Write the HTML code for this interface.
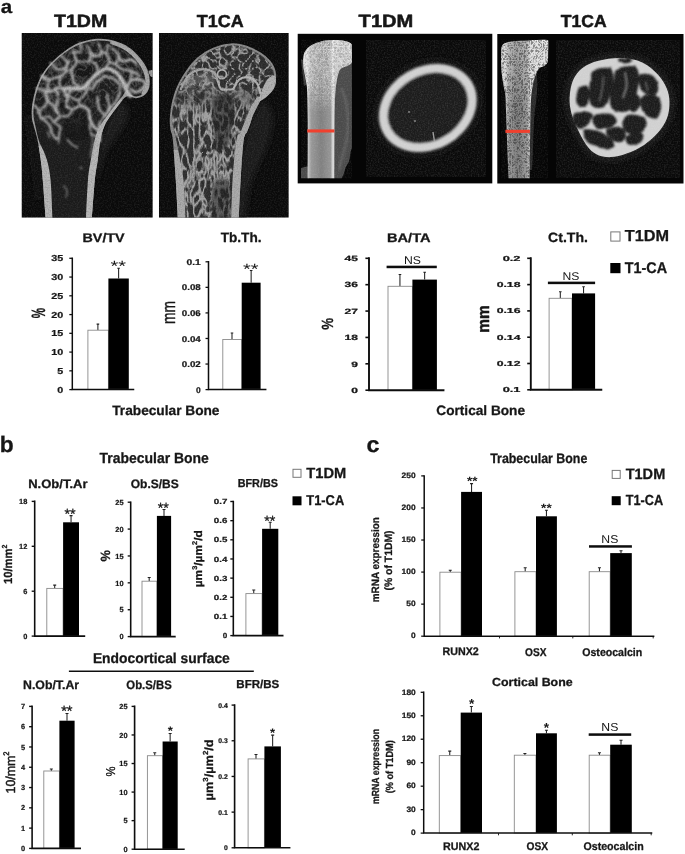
<!DOCTYPE html>
<html lang="en"><head><meta charset="utf-8"><title>Figure</title>
<style>html,body{margin:0;padding:0;background:#fff}svg{display:block}text{font-family:'Liberation Sans', sans-serif}</style>
</head><body>
<svg width="685" height="854" viewBox="0 0 685 854" text-rendering="geometricPrecision">
<rect width="685" height="854" fill="#fff"/>
<defs>
<filter id="soft" x="-2%" y="-2%" width="104%" height="104%"><feGaussianBlur stdDeviation="0.32"/></filter>
<filter id="b1" x="-5%" y="-5%" width="110%" height="110%"><feGaussianBlur stdDeviation="0.75"/></filter>
<filter id="b2" x="-5%" y="-5%" width="110%" height="110%"><feGaussianBlur stdDeviation="1.1"/></filter>
<filter id="b3" x="-10%" y="-10%" width="120%" height="120%"><feGaussianBlur stdDeviation="3"/></filter>
<filter id="wob" x="-5%" y="-5%" width="110%" height="110%" color-interpolation-filters="sRGB"><feTurbulence type="fractalNoise" baseFrequency="0.06" numOctaves="2" seed="21"/><feColorMatrix type="matrix" values="1 0 0 0 0  0 1 0 0 0  0 0 1 0 0  0 0 0 0 1" result="t"/><feDisplacementMap in="SourceGraphic" in2="t" scale="5" xChannelSelector="R" yChannelSelector="G"/><feGaussianBlur stdDeviation="0.85"/></filter>
<filter id="wob2" x="-5%" y="-5%" width="110%" height="110%" color-interpolation-filters="sRGB"><feTurbulence type="fractalNoise" baseFrequency="0.09" numOctaves="2" seed="33"/><feColorMatrix type="matrix" values="1 0 0 0 0  0 1 0 0 0  0 0 1 0 0  0 0 0 0 1" result="t"/><feDisplacementMap in="SourceGraphic" in2="t" scale="6" xChannelSelector="R" yChannelSelector="G"/><feGaussianBlur stdDeviation="0.9"/></filter>
<filter id="wob3" x="-5%" y="-5%" width="110%" height="110%" color-interpolation-filters="sRGB"><feTurbulence type="fractalNoise" baseFrequency="0.13" numOctaves="2" seed="5"/><feColorMatrix type="matrix" values="1 0 0 0 0  0 1 0 0 0  0 0 1 0 0  0 0 0 0 1" result="t"/><feDisplacementMap in="SourceGraphic" in2="t" scale="3" xChannelSelector="R" yChannelSelector="G"/><feGaussianBlur stdDeviation="1.0"/></filter>
<filter id="xtexW" x="0" y="0" width="100%" height="100%" color-interpolation-filters="sRGB"><feTurbulence type="turbulence" baseFrequency="0.38 0.34" numOctaves="2" seed="12"/><feColorMatrix type="matrix" values="0 0 0 0 1  0 0 0 0 1  0 0 0 0 1  -3.2 0 0 0 0.95"/><feComposite in2="SourceGraphic" operator="in"/><feGaussianBlur stdDeviation="0.4"/></filter>
<filter id="b08" x="-5%" y="-5%" width="110%" height="110%"><feGaussianBlur stdDeviation="0.85"/></filter>
<filter id="b05" x="-5%" y="-5%" width="110%" height="110%"><feGaussianBlur stdDeviation="0.5"/></filter>
<filter id="grainW" x="0" y="0" width="100%" height="100%" color-interpolation-filters="sRGB"><feTurbulence type="fractalNoise" baseFrequency="0.7" numOctaves="2" seed="3" result="n"/><feColorMatrix in="n" type="matrix" values="0 0 0 0 1  0 0 0 0 1  0 0 0 0 1  2.0 0 0 0 -0.8"/><feGaussianBlur stdDeviation="0.45"/></filter>
<filter id="meshA" x="0" y="0" width="100%" height="100%" color-interpolation-filters="sRGB"><feTurbulence type="turbulence" baseFrequency="0.17 0.075" numOctaves="2" seed="4"/><feColorMatrix type="matrix" values="0 0 0 0 0.64  0 0 0 0 0.64  0 0 0 0 0.64  -4.0 0 0 0 1.38"/><feComposite in2="SourceGraphic" operator="in"/><feGaussianBlur stdDeviation="0.65"/></filter>
<filter id="meshB" x="0" y="0" width="100%" height="100%" color-interpolation-filters="sRGB"><feTurbulence type="turbulence" baseFrequency="0.15 0.13" numOctaves="2" seed="7"/><feColorMatrix type="matrix" values="0 0 0 0 0.64  0 0 0 0 0.64  0 0 0 0 0.64  -4.0 0 0 0 1.22"/><feComposite in2="SourceGraphic" operator="in"/><feGaussianBlur stdDeviation="0.65"/></filter>
<filter id="xtex" x="0" y="0" width="100%" height="100%" color-interpolation-filters="sRGB"><feTurbulence type="turbulence" baseFrequency="0.42 0.36" numOctaves="2" seed="12"/><feColorMatrix type="matrix" values="0 0 0 0 0.12  0 0 0 0 0.12  0 0 0 0 0.12  3.0 0 0 0 -0.45"/><feComposite in2="SourceGraphic" operator="in"/><feGaussianBlur stdDeviation="0.35"/></filter>
<filter id="grainK" x="0" y="0" width="100%" height="100%" color-interpolation-filters="sRGB"><feTurbulence type="fractalNoise" baseFrequency="0.7" numOctaves="2" seed="9" result="n"/><feColorMatrix in="n" type="matrix" values="0 0 0 0 0  0 0 0 0 0  0 0 0 0 0  0 2.0 0 0 -0.8"/><feGaussianBlur stdDeviation="0.45"/></filter>
<filter id="speck" x="0" y="0" width="100%" height="100%"><feTurbulence type="fractalNoise" baseFrequency="0.55" numOctaves="2" seed="5" result="n"/><feColorMatrix in="n" type="matrix" values="0 0 0 0 0  0 0 0 0 0  0 0 0 0 0  5 0 0 0 -2.3"/></filter>
<filter id="speckW" x="0" y="0" width="100%" height="100%"><feTurbulence type="fractalNoise" baseFrequency="0.6" numOctaves="2" seed="8" result="n"/><feColorMatrix in="n" type="matrix" values="0 0 0 0 1  0 0 0 0 1  0 0 0 0 1  0 5 0 0 -2.4"/></filter>
<linearGradient id="shaft1" gradientUnits="userSpaceOnUse" x1="307.4" x2="335" y1="0" y2="0"><stop offset="0" stop-color="#cfcfcf"/><stop offset="0.14" stop-color="#989898"/><stop offset="0.5" stop-color="#808080"/><stop offset="0.84" stop-color="#969696"/><stop offset="0.93" stop-color="#e2e2e2"/><stop offset="1" stop-color="#b4b4b4"/></linearGradient>
<linearGradient id="shaft2" gradientUnits="userSpaceOnUse" x1="505" x2="530.6" y1="0" y2="0"><stop offset="0" stop-color="#d0d0d0"/><stop offset="0.16" stop-color="#989898"/><stop offset="0.5" stop-color="#7e7e7e"/><stop offset="0.84" stop-color="#989898"/><stop offset="1" stop-color="#d8d8d8"/></linearGradient>
<clipPath id="cp1"><rect x="21.5" y="32.9" width="131.3" height="184.8"/></clipPath>
<clipPath id="cp2"><rect x="158.9" y="32.9" width="129.9" height="184.8"/></clipPath>
<clipPath id="cx1"><rect x="301" y="39.6" width="50.9" height="138.8"/></clipPath>
<clipPath id="cx2"><rect x="501" y="39.6" width="47.3" height="138.8"/></clipPath>
</defs>
<g filter="url(#soft)">
<text stroke="#161616" stroke-width="0.28" stroke-linejoin="round" x="0.88" y="13.11" font-size="18.73" font-weight="bold" textLength="11.44" lengthAdjust="spacingAndGlyphs" fill="#161616">a</text>
<text stroke="#161616" stroke-width="0.28" stroke-linejoin="round" x="-0.18" y="452.48" font-size="22.31" font-weight="bold" textLength="13.91" lengthAdjust="spacingAndGlyphs" fill="#161616">b</text>
<text stroke="#161616" stroke-width="0.28" stroke-linejoin="round" x="366.57" y="451.98" font-size="22.18" font-weight="bold" textLength="12.96" lengthAdjust="spacingAndGlyphs" fill="#161616">c</text>
<text stroke="#161616" stroke-width="0.5" stroke-linejoin="round" x="54.00" y="26.80" font-size="17.83" font-weight="bold" textLength="53.31" lengthAdjust="spacingAndGlyphs" fill="#161616">T1DM</text>
<text stroke="#161616" stroke-width="0.5" stroke-linejoin="round" x="196.82" y="26.63" font-size="17.32" font-weight="bold" textLength="46.85" lengthAdjust="spacingAndGlyphs" fill="#161616">T1CA</text>
<text stroke="#161616" stroke-width="0.5" stroke-linejoin="round" x="358.60" y="26.90" font-size="17.83" font-weight="bold" textLength="54.75" lengthAdjust="spacingAndGlyphs" fill="#161616">T1DM</text>
<text stroke="#161616" stroke-width="0.5" stroke-linejoin="round" x="560.82" y="26.73" font-size="17.32" font-weight="bold" textLength="45.84" lengthAdjust="spacingAndGlyphs" fill="#161616">T1CA</text>
</g>
<g clip-path="url(#cp1)">
<rect x="21.5" y="32.9" width="131.3" height="184.8" fill="#0b0b0b"/>
<path d="M120 100 C128 102 130 112 126 122 C121 134 111 142 105 154 C102 162 100 170 98 178 L95 178 L98 150 L106 124 Z" fill="#1d1d1d" filter="url(#b3)"/>
<path d="M42 200 L39 160 L33 128 L30 112 L26 120 L31 150 L37 200Z" fill="#181818" filter="url(#b3)"/>
<g filter="url(#b1)">
<path d="M45.6 217.7C45.1 211.2 43.5 188.7 42.7 179.0C41.9 169.3 41.6 165.9 40.7 159.4C39.8 152.9 38.7 145.7 37.5 140.0C36.3 134.3 34.5 128.9 33.5 125.0C32.5 121.1 32.0 120.0 31.8 116.7C31.6 113.4 31.5 109.5 32.2 104.9C32.9 100.3 34.2 94.0 35.8 89.1C37.4 84.2 39.1 79.7 41.7 75.3C44.3 70.9 47.6 66.6 51.5 62.5C55.4 58.4 60.7 54.0 65.3 50.7C69.9 47.4 74.2 44.8 79.1 42.8C84.0 40.8 90.0 39.4 94.9 38.9C99.8 38.4 104.1 38.7 108.7 39.5C113.3 40.3 118.2 41.8 122.5 43.8C126.8 45.8 130.7 48.4 134.3 51.7C137.9 55.0 141.7 59.6 144.2 63.5C146.7 67.4 148.2 71.3 149.1 75.3C149.9 79.2 150.1 83.9 149.3 87.2C148.6 90.5 146.8 93.2 144.6 95.0C142.4 96.8 138.8 98.0 136.3 98.2C133.8 98.4 131.4 96.4 129.4 96.3C127.5 96.2 126.4 96.4 124.6 97.8C122.8 99.2 121.1 101.8 118.6 104.9C116.1 108.1 112.2 113.2 109.8 116.7C107.4 120.2 106.0 122.1 104.4 125.9C102.8 129.7 101.5 134.1 100.4 139.7C99.3 145.3 98.7 152.8 97.8 159.4C96.9 166.0 95.9 169.4 94.9 179.1C93.9 188.8 92.4 211.3 91.9 217.7Z" fill="#9c9c9c"/>
<clipPath id="csh1"><path d="M20 146 L80 146 L80 100 L155 100 L155 220 L20 220Z"/></clipPath>
<g clip-path="url(#csh1)"><path d="M45.6 217.7C45.1 211.2 43.5 188.7 42.7 179.0C41.9 169.3 41.6 165.9 40.7 159.4C39.8 152.9 38.7 145.7 37.5 140.0C36.3 134.3 34.5 128.9 33.5 125.0C32.5 121.1 32.0 120.0 31.8 116.7C31.6 113.4 31.5 109.5 32.2 104.9C32.9 100.3 34.2 94.0 35.8 89.1C37.4 84.2 39.1 79.7 41.7 75.3C44.3 70.9 47.6 66.6 51.5 62.5C55.4 58.4 60.7 54.0 65.3 50.7C69.9 47.4 74.2 44.8 79.1 42.8C84.0 40.8 90.0 39.4 94.9 38.9C99.8 38.4 104.1 38.7 108.7 39.5C113.3 40.3 118.2 41.8 122.5 43.8C126.8 45.8 130.7 48.4 134.3 51.7C137.9 55.0 141.7 59.6 144.2 63.5C146.7 67.4 148.2 71.3 149.1 75.3C149.9 79.2 150.1 83.9 149.3 87.2C148.6 90.5 146.8 93.2 144.6 95.0C142.4 96.8 138.8 98.0 136.3 98.2C133.8 98.4 131.4 96.4 129.4 96.3C127.5 96.2 126.4 96.4 124.6 97.8C122.8 99.2 121.1 101.8 118.6 104.9C116.1 108.1 112.2 113.2 109.8 116.7C107.4 120.2 106.0 122.1 104.4 125.9C102.8 129.7 101.5 134.1 100.4 139.7C99.3 145.3 98.7 152.8 97.8 159.4C96.9 166.0 95.9 169.4 94.9 179.1C93.9 188.8 92.4 211.3 91.9 217.7Z" fill="#b6b6b6"/></g>
<path d="M52.5 217.7C52.2 211.2 51.5 188.7 50.5 179.0C49.5 169.3 48.3 164.9 46.8 159.4C45.2 153.9 42.6 149.3 41.2 146.0C39.8 142.7 39.6 143.0 38.6 139.7C37.6 136.4 36.2 129.9 35.4 126.0C34.6 122.0 33.8 119.5 33.6 116.0C33.4 112.5 33.4 109.4 34.0 105.0C34.6 100.6 36.0 94.4 37.5 89.6C39.0 84.8 40.8 80.3 43.3 76.0C45.8 71.7 49.0 67.6 52.8 63.6C56.6 59.6 61.7 55.2 66.2 52.0C70.7 48.8 75.0 46.3 79.8 44.4C84.6 42.5 90.2 41.2 95.0 40.7C99.8 40.2 104.0 40.5 108.5 41.3C113.0 42.1 117.7 43.5 121.8 45.5C125.9 47.5 129.7 49.9 133.2 53.1C136.7 56.3 140.2 60.7 142.6 64.5C144.9 68.3 146.5 72.1 147.3 75.8C148.1 79.5 148.1 83.8 147.4 86.8C146.8 89.8 145.2 92.0 143.4 93.6C141.6 95.2 138.6 96.2 136.5 96.4C134.4 96.6 132.2 95.7 130.6 94.6C129.0 93.5 128.3 89.8 127.0 90.0C125.7 90.2 124.4 93.7 122.6 96.0C120.8 98.3 118.6 100.7 116.0 104.0C113.4 107.3 109.7 112.3 107.0 116.0C104.3 119.7 101.9 122.5 99.8 126.4C97.7 130.3 96.1 134.2 94.6 139.7C93.1 145.2 92.0 152.8 90.9 159.4C89.8 166.0 88.8 169.4 88.0 179.1C87.2 188.8 86.3 211.3 86.0 217.7Z" fill="#1b1b1b"/>
<path d="M74.2 61.5C76.2 60.1 81.6 59.1 85.0 59.6C88.5 60.1 92.9 62.4 94.9 64.5C96.9 66.6 97.8 69.7 96.9 72.4C95.9 75.0 91.9 78.3 89.0 80.3C86.0 82.2 81.8 84.7 79.1 84.2C76.5 83.7 74.3 79.9 73.2 77.3C72.2 74.7 72.7 71.1 72.8 68.4C73.0 65.8 72.2 63.0 74.2 61.5Z" fill="#141414"/>
<path d="M109.7 53.6C111.3 52.8 116.4 55.0 118.5 56.6C120.7 58.2 120.5 61.5 122.5 63.5C124.5 65.5 129.1 66.1 130.4 68.4C131.7 70.7 131.4 75.0 130.4 77.3C129.4 79.6 126.3 82.7 124.5 82.2C122.6 81.7 121.5 76.5 119.5 74.3C117.6 72.2 114.4 71.6 112.6 69.4C110.8 67.3 109.2 64.2 108.7 61.5C108.2 58.9 108.0 54.5 109.7 53.6Z" fill="#141414"/>
<path d="M79.1 112.8C83.1 110.8 86.7 109.2 89.0 110.8C91.3 112.4 92.9 118.4 92.9 122.6C92.9 126.9 91.3 133.5 89.0 136.4C86.7 139.3 82.7 140.0 79.1 140.0C75.5 140.0 69.6 139.3 67.3 136.4C65.0 133.5 63.4 126.6 65.3 122.6C67.3 118.7 75.2 114.7 79.1 112.8Z" fill="#141414"/>
<path d="M54.5 95.0C56.1 93.1 60.7 91.8 62.4 93.1C64.0 94.4 65.2 99.6 64.3 102.9C63.5 106.2 59.4 112.4 57.4 112.8C55.5 113.1 53.0 107.8 52.5 104.9C52.0 101.9 52.8 97.0 54.5 95.0Z" fill="#141414"/>
</g>
<clipPath id="cin1"><path d="M52.5 217.7C52.2 211.2 51.5 188.7 50.5 179.0C49.5 169.3 48.3 164.9 46.8 159.4C45.2 153.9 42.6 149.3 41.2 146.0C39.8 142.7 39.6 143.0 38.6 139.7C37.6 136.4 36.2 129.9 35.4 126.0C34.6 122.0 33.8 119.5 33.6 116.0C33.4 112.5 33.4 109.4 34.0 105.0C34.6 100.6 36.0 94.4 37.5 89.6C39.0 84.8 40.8 80.3 43.3 76.0C45.8 71.7 49.0 67.6 52.8 63.6C56.6 59.6 61.7 55.2 66.2 52.0C70.7 48.8 75.0 46.3 79.8 44.4C84.6 42.5 90.2 41.2 95.0 40.7C99.8 40.2 104.0 40.5 108.5 41.3C113.0 42.1 117.7 43.5 121.8 45.5C125.9 47.5 129.7 49.9 133.2 53.1C136.7 56.3 140.2 60.7 142.6 64.5C144.9 68.3 146.5 72.1 147.3 75.8C148.1 79.5 148.1 83.8 147.4 86.8C146.8 89.8 145.2 92.0 143.4 93.6C141.6 95.2 138.6 96.2 136.5 96.4C134.4 96.6 132.2 95.7 130.6 94.6C129.0 93.5 128.3 89.8 127.0 90.0C125.7 90.2 124.4 93.7 122.6 96.0C120.8 98.3 118.6 100.7 116.0 104.0C113.4 107.3 109.7 112.3 107.0 116.0C104.3 119.7 101.9 122.5 99.8 126.4C97.7 130.3 96.1 134.2 94.6 139.7C93.1 145.2 92.0 152.8 90.9 159.4C89.8 166.0 88.8 169.4 88.0 179.1C87.2 188.8 86.3 211.3 86.0 217.7Z"/></clipPath>
<linearGradient id="mg1" x1="0" x2="0" y1="96" y2="136" gradientUnits="userSpaceOnUse"><stop offset="0" stop-color="#fff"/><stop offset="1" stop-color="#000"/></linearGradient>
<mask id="mk1" maskUnits="userSpaceOnUse" x="20" y="30" width="135" height="190"><rect x="20" y="30" width="135" height="190" fill="url(#mg1)"/></mask>
<g clip-path="url(#cin1)"><g mask="url(#mk1)"><rect x="28" y="36" width="124" height="104" fill="#fff" filter="url(#meshB)" opacity="0.3"/></g></g>
<g fill="none" stroke-linecap="round" stroke-linejoin="round" filter="url(#wob)">
<path d="M62.4 89.5C63.9 89.2 68.3 87.9 71.6 87.5C75.0 87.2 79.7 88.1 82.7 87.2C85.6 86.2 86.9 83.7 89.4 81.6C91.8 79.5 94.7 76.4 97.3 74.5C99.8 72.7 102.2 71.3 104.7 70.6C107.3 69.9 110.2 69.8 112.6 70.6C115.1 71.4 117.7 73.2 119.5 75.3C121.4 77.5 122.5 81.0 123.7 83.6C124.8 86.2 125.3 89.1 126.4 91.1C127.5 93.1 129.7 95.0 130.4 95.8" stroke="#c4c4c4" stroke-width="4.16"/>
<path d="M92.1 89.1C93.2 87.7 96.0 82.8 98.4 80.8C100.9 78.9 104.0 77.5 106.7 77.3C109.5 77.1 112.8 78.0 115.0 79.7C117.2 81.4 119.1 84.7 119.7 87.5C120.3 90.4 119.7 94.1 118.5 97.0C117.4 99.9 113.6 103.6 112.6 104.9" stroke="#a8a8a8" stroke-width="2.72"/>
<path d="M62.4 89.5C61.2 89.5 57.6 88.8 55.5 89.1C53.3 89.5 51.5 91.5 49.6 91.5C47.6 91.5 45.8 89.5 43.6 89.1C41.5 88.7 37.7 89.1 36.6 89.1" stroke="#b0b0b0" stroke-width="2.56"/>
<path d="M73.2 51.7C73.9 53.3 77.8 58.6 77.5 61.5C77.3 64.5 72.4 66.5 71.6 69.4C70.9 72.4 72.1 76.6 73.2 79.3C74.3 82.0 77.5 84.5 78.3 85.6" stroke="#b4b4b4" stroke-width="2.72"/>
<path d="M77.5 61.5C79.1 61.5 84.1 60.7 87.0 61.1C90.0 61.5 93.2 62.1 95.3 63.9C97.3 65.7 98.6 70.5 99.2 71.8" stroke="#b0b0b0" stroke-width="2.40"/>
<path d="M87.0 45.8C87.7 47.1 88.9 52.4 90.9 54.0C93.0 55.7 97.5 56.3 99.2 55.6C100.9 54.9 101.3 51.7 101.2 49.7C101.1 47.7 99.2 44.8 98.8 43.8" stroke="#b4b4b4" stroke-width="2.40"/>
<path d="M101.2 49.7C102.2 50.1 105.8 52.9 107.1 52.1C108.4 51.3 108.8 46.2 109.1 45.0" stroke="#b0b0b0" stroke-width="2.24"/>
<path d="M107.1 52.1C107.4 53.6 109.4 58.6 109.1 61.5C108.8 64.5 105.8 68.4 105.1 69.8" stroke="#b0b0b0" stroke-width="2.40"/>
<path d="M90.9 54.0 L89.0 59.6" stroke="#aaa" stroke-width="2.24"/>
<path d="M112.6 48.1C113.7 49.4 118.5 53.4 118.9 56.0C119.3 58.6 116.6 63.0 115.0 63.9C113.4 64.8 110.1 61.9 109.1 61.5" stroke="#b0b0b0" stroke-width="2.24"/>
<path d="M118.9 56.0C119.7 56.9 121.3 60.9 123.3 61.5C125.2 62.1 128.5 59.2 130.8 59.6C133.1 60.0 136.0 63.2 137.1 63.9" stroke="#b8b8b8" stroke-width="2.56"/>
<path d="M115.0 63.9C116.2 64.8 119.9 68.2 122.5 69.4C125.1 70.7 128.0 70.3 130.8 71.4C133.5 72.4 137.7 75.0 139.0 75.7" stroke="#b0b0b0" stroke-width="2.40"/>
<path d="M126.4 91.1C127.0 89.5 127.9 83.6 129.6 81.6C131.2 79.7 133.9 79.3 136.3 79.3C138.6 79.3 142.3 80.1 143.8 81.6C145.2 83.1 145.9 86.5 145.0 88.3C144.0 90.2 140.5 92.5 138.2 92.7C136.0 92.8 132.7 89.7 131.5 89.1" stroke="#bcbcbc" stroke-width="2.88"/>
<path d="M130.8 71.4 L129.6 81.6" stroke="#aaa" stroke-width="2.24"/>
<path d="M61.4 55.6C62.4 56.9 66.6 60.9 67.3 63.5C68.0 66.1 65.0 70.4 65.7 71.4C66.4 72.4 70.7 69.7 71.6 69.4" stroke="#aaa" stroke-width="2.24"/>
<path d="M79.1 43.8C79.5 45.1 82.1 50.4 81.1 51.7C80.1 53.0 74.5 51.7 73.2 51.7" stroke="#aaa" stroke-width="2.08"/>
<path d="M41.7 75.7C43.0 76.3 46.6 79.0 49.6 79.3C52.5 79.5 56.5 78.5 59.4 77.3C62.4 76.1 66.0 72.7 67.3 71.8" stroke="#b4b4b4" stroke-width="2.56"/>
<path d="M51.5 63.1C52.5 64.2 55.1 68.6 57.4 69.4C59.7 70.2 63.4 69.5 65.3 67.8C67.3 66.2 68.6 60.9 69.3 59.6" stroke="#b0b0b0" stroke-width="2.40"/>
<path d="M49.6 79.3C49.2 80.6 47.6 85.1 47.6 87.2C47.6 89.2 49.2 90.8 49.6 91.5" stroke="#aaa" stroke-width="2.24"/>
<path d="M59.4 77.3C59.3 78.6 58.1 83.1 58.6 85.2C59.1 87.2 61.7 88.8 62.4 89.5" stroke="#aaa" stroke-width="2.24"/>
<path d="M45.6 91.1C46.0 92.7 48.3 98.0 48.0 100.9C47.7 103.9 45.3 106.9 43.6 108.8C42.0 110.8 39.1 112.1 38.1 112.8" stroke="#b0b0b0" stroke-width="2.40"/>
<path d="M53.9 89.1C54.6 90.4 57.6 94.0 57.8 97.0C58.1 100.0 55.1 104.3 55.5 107.3C55.8 110.2 60.1 112.2 59.8 114.7C59.5 117.3 54.9 121.3 53.9 122.6" stroke="#b4b4b4" stroke-width="2.56"/>
<path d="M62.4 89.5C63.3 90.8 67.1 94.4 67.7 97.0C68.3 99.6 65.1 102.9 65.7 104.9C66.4 106.9 69.4 108.7 71.6 108.8C73.9 109.0 76.6 105.7 79.1 105.7C81.7 105.7 85.0 107.0 87.0 108.8C89.0 110.7 90.6 115.4 91.3 116.7" stroke="#b8b8b8" stroke-width="2.72"/>
<path d="M34.2 104.9C35.1 105.6 38.4 106.9 39.7 109.2C41.0 111.5 40.7 116.1 42.1 118.7C43.5 121.2 46.4 122.3 48.0 124.6C49.6 126.9 50.1 129.9 51.5 132.5C53.0 135.0 55.8 138.7 56.7 140.0" stroke="#b0b0b0" stroke-width="2.40"/>
<path d="M59.8 114.7C60.8 115.1 64.1 117.0 65.7 116.7C67.4 116.4 68.7 114.1 69.7 112.8C70.7 111.5 71.3 109.5 71.6 108.8" stroke="#aaa" stroke-width="2.24"/>
<path d="M48.0 100.9 L55.5 107.3" stroke="#a4a4a4" stroke-width="2.08"/>
<path d="M42.1 118.7C43.3 118.4 47.6 116.1 49.6 116.7C51.5 117.4 52.3 120.7 53.9 122.6C55.5 124.6 58.6 125.7 59.4 128.5C60.2 131.4 58.8 138.1 58.6 140.0" stroke="#a8a8a8" stroke-width="2.24"/>
<path d="M71.6 87.5C71.2 88.8 68.4 93.1 69.3 95.0C70.2 96.9 74.5 99.0 77.2 99.0C79.8 99.0 83.0 97.0 85.0 95.0C87.1 93.1 88.7 88.5 89.4 87.2" stroke="#b4b4b4" stroke-width="2.40"/>
<path d="M77.2 99.0 L79.1 105.7" stroke="#aaa" stroke-width="2.08"/>
<path d="M97.3 97.0C97.6 99.0 97.9 105.5 99.2 108.8C100.5 112.1 104.2 115.4 105.1 116.7" stroke="#b0b0b0" stroke-width="2.40"/>
<path d="M106.7 95.0C107.1 96.7 109.1 101.6 109.1 104.9C109.1 108.2 107.1 113.1 106.7 114.7" stroke="#aaa" stroke-width="2.24"/>
<path d="M89.4 114.7C90.0 116.4 91.7 121.6 93.3 124.6C95.0 127.6 98.2 129.9 99.2 132.5C100.3 135.0 99.6 138.7 99.6 140.0" stroke="#bcbcbc" stroke-width="3.04"/>
<path d="M112.6 104.9C111.6 106.5 108.7 111.8 106.7 114.7C104.7 117.7 102.1 119.7 100.8 122.6C99.6 125.6 99.5 130.8 99.2 132.5" stroke="#b0b0b0" stroke-width="2.40"/>
<path d="M87.0 108.8 L89.4 114.7" stroke="#b0b0b0" stroke-width="2.40"/>
<path d="M57.4 123.9C57.8 125.6 59.2 130.5 59.4 133.8C59.6 137.1 58.8 142.0 58.6 143.6" stroke="#a0a0a0" stroke-width="1.4"/>
<path d="M67.3 139.7C68.3 140.7 71.6 144.3 73.2 145.6C74.9 146.9 76.5 147.3 77.2 147.6" stroke="#b0b0b0" stroke-width="1.5"/>
<path d="M89.4 123.9C89.7 125.6 90.0 131.8 91.3 133.8C92.7 135.8 96.3 135.4 97.3 135.8" stroke="#b8b8b8" stroke-width="1.8"/>
<path d="M91.3 133.8C91.7 135.8 93.5 141.7 93.3 145.6C93.1 149.6 90.7 155.5 90.2 157.4" stroke="#8a8a8a" stroke-width="1.3"/>
<path d="M64.5 185.0C65.0 186.0 67.1 189.0 67.3 190.9C67.5 192.9 66.0 195.9 65.7 196.9" stroke="#8a8a8a" stroke-width="1.2"/>
<path d="M79.1 167.3 L82.3 169.3" stroke="#9a9a9a" stroke-width="1.3"/>
<path d="M49.6 137.7 L47.6 131.8" stroke="#9a9a9a" stroke-width="1.3"/>
</g>
<path d="M112.0 42.6C113.6 43.2 118.1 44.4 121.5 46.2C124.9 48.0 129.1 50.5 132.4 53.6C135.8 56.7 139.2 60.9 141.6 64.6C144.0 68.3 145.7 72.3 146.6 76.0C147.5 79.7 147.3 83.7 146.8 86.5C146.3 89.3 144.0 91.8 143.4 92.8" fill="none" stroke="#a6a6a6" stroke-width="3.6" stroke-linecap="round" filter="url(#b1)"/>
<path d="M148.5 71 C151 69.5 153 70 153 70 L153 77 C151 77.5 149.5 76 148.5 71Z" fill="#9a9a9a" filter="url(#b05)"/>
<rect x="21.5" y="32.9" width="131.3" height="184.8" filter="url(#grainW)" opacity="0.10"/>
<rect x="21.5" y="32.9" width="131.3" height="184.8" filter="url(#grainK)" opacity="0.16"/>
</g>
<g clip-path="url(#cp2)">
<rect x="158.9" y="32.9" width="129.9" height="184.8" fill="#0b0b0b"/>
<path d="M262 100 C272 104 276 118 270 138 C265 156 254 170 249 190 C247 204 246 212 246 218 L236 218 L240 160 L248 125 Z" fill="#1f1f1f" filter="url(#b3)"/>
<g filter="url(#b1)">
<path d="M177.7 217.7C177.4 211.3 176.5 192.1 175.7 179.1C174.9 166.1 173.7 147.9 172.8 139.7C172.0 131.5 171.1 133.5 170.6 130.0C170.1 126.5 169.6 123.2 169.8 118.7C170.0 114.2 170.7 108.2 171.8 102.9C173.0 97.7 174.4 92.5 176.7 87.2C179.0 82.0 182.1 76.3 185.6 71.4C189.1 66.5 192.8 61.6 197.4 57.6C202.0 53.6 207.6 50.1 213.2 47.7C218.8 45.3 225.3 43.7 230.9 43.4C236.5 43.1 241.4 44.1 246.7 45.8C251.9 47.5 258.1 50.8 262.4 53.7C266.7 56.7 270.0 59.9 272.3 63.5C274.6 67.1 276.0 71.3 276.2 75.3C276.4 79.2 274.9 83.6 273.3 87.2C271.7 90.8 268.9 94.5 266.4 97.0C263.9 99.5 260.5 99.9 258.5 101.9C256.5 103.9 255.8 105.3 254.5 108.8C253.2 112.2 251.8 118.7 250.6 122.6C249.3 126.5 248.2 129.2 247.0 132.0C245.8 134.8 244.8 131.8 243.7 139.7C242.6 147.5 241.5 166.1 240.7 179.1C239.9 192.1 239.1 211.3 238.8 217.7Z" fill="#8a8a8a"/>
<clipPath id="csh2"><path d="M160 150 L215 150 L215 103 L290 103 L290 220 L160 220Z"/></clipPath>
<g clip-path="url(#csh2)"><path d="M177.7 217.7C177.4 211.3 176.5 192.1 175.7 179.1C174.9 166.1 173.7 147.9 172.8 139.7C172.0 131.5 171.1 133.5 170.6 130.0C170.1 126.5 169.6 123.2 169.8 118.7C170.0 114.2 170.7 108.2 171.8 102.9C173.0 97.7 174.4 92.5 176.7 87.2C179.0 82.0 182.1 76.3 185.6 71.4C189.1 66.5 192.8 61.6 197.4 57.6C202.0 53.6 207.6 50.1 213.2 47.7C218.8 45.3 225.3 43.7 230.9 43.4C236.5 43.1 241.4 44.1 246.7 45.8C251.9 47.5 258.1 50.8 262.4 53.7C266.7 56.7 270.0 59.9 272.3 63.5C274.6 67.1 276.0 71.3 276.2 75.3C276.4 79.2 274.9 83.6 273.3 87.2C271.7 90.8 268.9 94.5 266.4 97.0C263.9 99.5 260.5 99.9 258.5 101.9C256.5 103.9 255.8 105.3 254.5 108.8C253.2 112.2 251.8 118.7 250.6 122.6C249.3 126.5 248.2 129.2 247.0 132.0C245.8 134.8 244.8 131.8 243.7 139.7C242.6 147.5 241.5 166.1 240.7 179.1C239.9 192.1 239.1 211.3 238.8 217.7Z" fill="#aaaaaa"/></g>
<path d="M185.6 217.7C185.2 211.3 184.6 190.0 183.4 179.1C182.2 168.2 179.8 158.6 178.6 152.0C177.4 145.4 177.1 143.7 176.2 139.7C175.3 135.7 174.1 131.6 173.4 128.0C172.7 124.4 171.8 122.0 171.8 118.0C171.8 114.0 172.5 108.9 173.6 104.0C174.7 99.1 176.2 93.6 178.4 88.4C180.6 83.2 183.6 77.9 187.0 73.0C190.4 68.1 194.1 63.1 198.6 59.2C203.1 55.3 208.4 51.9 213.8 49.6C219.2 47.3 225.6 45.7 231.0 45.4C236.4 45.1 241.2 46.1 246.2 47.8C251.2 49.5 257.1 52.6 261.2 55.4C265.3 58.2 268.5 61.2 270.6 64.6C272.7 67.9 273.9 71.9 274.0 75.5C274.1 79.1 272.7 83.0 271.2 86.2C269.7 89.4 267.3 92.5 264.8 94.8C262.3 97.1 258.8 97.7 256.4 99.8C254.0 101.9 252.2 104.0 250.5 107.5C248.8 111.0 247.6 116.9 246.0 121.0C244.4 125.1 242.6 128.9 241.0 132.0C239.4 135.1 237.9 131.8 236.5 139.7C235.1 147.5 233.5 166.1 232.6 179.1C231.7 192.1 231.4 211.3 231.2 217.7Z" fill="#2e2e2e"/>
</g>
<clipPath id="cin2"><path d="M185.6 217.7C185.2 211.3 184.6 190.0 183.4 179.1C182.2 168.2 179.8 158.6 178.6 152.0C177.4 145.4 177.1 143.7 176.2 139.7C175.3 135.7 174.1 131.6 173.4 128.0C172.7 124.4 171.8 122.0 171.8 118.0C171.8 114.0 172.5 108.9 173.6 104.0C174.7 99.1 176.2 93.6 178.4 88.4C180.6 83.2 183.6 77.9 187.0 73.0C190.4 68.1 194.1 63.1 198.6 59.2C203.1 55.3 208.4 51.9 213.8 49.6C219.2 47.3 225.6 45.7 231.0 45.4C236.4 45.1 241.2 46.1 246.2 47.8C251.2 49.5 257.1 52.6 261.2 55.4C265.3 58.2 268.5 61.2 270.6 64.6C272.7 67.9 273.9 71.9 274.0 75.5C274.1 79.1 272.7 83.0 271.2 86.2C269.7 89.4 267.3 92.5 264.8 94.8C262.3 97.1 258.8 97.7 256.4 99.8C254.0 101.9 252.2 104.0 250.5 107.5C248.8 111.0 247.6 116.9 246.0 121.0C244.4 125.1 242.6 128.9 241.0 132.0C239.4 135.1 237.9 131.8 236.5 139.7C235.1 147.5 233.5 166.1 232.6 179.1C231.7 192.1 231.4 211.3 231.2 217.7Z"/></clipPath>
<g clip-path="url(#cin2)">
<linearGradient id="mgA" x1="0" x2="0" y1="84" y2="112" gradientUnits="userSpaceOnUse"><stop offset="0" stop-color="#000"/><stop offset="1" stop-color="#fff"/></linearGradient>
<linearGradient id="mgB" x1="0" x2="0" y1="84" y2="112" gradientUnits="userSpaceOnUse"><stop offset="0" stop-color="#fff"/><stop offset="1" stop-color="#000"/></linearGradient>
<mask id="mkA" maskUnits="userSpaceOnUse" x="160" y="30" width="130" height="190"><rect x="160" y="30" width="130" height="190" fill="url(#mgA)"/></mask>
<mask id="mkB" maskUnits="userSpaceOnUse" x="160" y="30" width="130" height="190"><rect x="160" y="30" width="130" height="190" fill="url(#mgB)"/></mask>
<g mask="url(#mkA)"><rect x="165" y="80" width="90" height="142" fill="#fff" filter="url(#meshA)"/></g>
<g mask="url(#mkB)"><rect x="165" y="40" width="115" height="76" fill="#fff" filter="url(#meshB)"/></g>
<g filter="url(#b2)">
<path d="M215.1 96.0C217.3 93.6 222.1 93.5 225.0 94.1C227.9 94.6 231.0 95.9 232.5 99.4C233.9 102.8 234.0 109.2 233.7 114.7C233.3 120.3 231.6 126.9 230.5 132.5C229.4 138.1 229.3 145.6 226.9 148.2C224.6 150.9 218.3 151.5 216.1 148.2C213.9 145.0 214.2 135.1 213.5 128.5C212.9 122.0 211.7 114.3 212.0 108.8C212.2 103.4 213.0 98.5 215.1 96.0Z" fill="#1c1c1c" opacity="0.6"/>
<path d="M215.1 181.1C217.9 177.2 224.3 178.1 226.9 179.1C229.6 180.1 230.7 183.1 231.3 187.0C231.9 190.9 230.8 197.5 230.5 202.8C230.2 208.0 232.3 215.9 229.7 218.5C227.1 221.2 218.3 221.2 215.1 218.5C211.9 215.9 210.4 209.0 210.4 202.8C210.4 196.5 212.4 185.0 215.1 181.1Z" fill="#1c1c1c" opacity="0.55"/>
<path d="M183.6 89.1C183.1 87.6 187.7 80.8 190.7 78.1C193.7 75.3 198.2 73.1 201.7 72.6C205.3 72.0 209.7 73.2 212.0 74.9C214.2 76.7 216.6 82.1 215.1 83.2C213.7 84.3 206.9 81.0 203.3 81.6C199.7 82.3 196.7 85.9 193.4 87.2C190.2 88.4 184.1 90.6 183.6 89.1Z" fill="#8a8a8a" opacity="0.4"/>
</g>
</g>
<g fill="none" stroke-linecap="round" filter="url(#b1)">
<path d="M180.8 89.1C182.1 86.8 185.3 78.6 188.7 75.3C192.1 72.0 197.2 69.9 201.3 69.4C205.5 68.9 210.8 70.1 213.5 72.2C216.3 74.2 217.2 80.1 217.9 81.6" stroke="#a4a4a4" stroke-width="2.2"/>
<path d="M233.3 89.1C234.2 87.5 236.6 81.6 239.2 79.7C241.7 77.7 245.7 76.7 248.6 77.3C251.6 77.9 254.9 80.5 256.9 83.2C258.9 85.9 259.9 91.8 260.5 93.5" stroke="#b4b4b4" stroke-width="2.2"/>
<circle cx="222.0" cy="74.3" r="4.4" stroke="#b0b0b0" stroke-width="1.6"/>
<path d="M217.9 81.6C218.4 82.9 219.4 87.8 221.0 89.1C222.7 90.4 225.9 89.5 227.9 89.5C230.0 89.5 232.4 89.2 233.3 89.1" stroke="#b0b0b0" stroke-width="2"/>
<path d="M258.5 99.0C257.2 101.6 252.9 109.8 250.6 114.7C248.3 119.7 246.5 123.9 244.7 128.5C242.9 133.1 240.6 140.0 239.8 142.3" stroke="#a8a8a8" stroke-width="5"/>
</g>
<path d="M267.5 79.3C269.7 76.7 273.3 75.1 274.6 75.7C276.0 76.4 276.2 80.7 275.8 83.2C275.4 85.8 274.1 88.6 272.3 91.1C270.4 93.6 267.0 96.4 264.8 98.0C262.6 99.6 259.4 102.1 258.9 100.9C258.4 99.8 260.2 94.7 261.6 91.1C263.1 87.5 265.4 81.8 267.5 79.3Z" fill="#b0b0b0" filter="url(#b1)"/>
<rect x="158.9" y="32.9" width="129.9" height="184.8" filter="url(#grainW)" opacity="0.10"/>
<rect x="158.9" y="32.9" width="129.9" height="184.8" filter="url(#grainK)" opacity="0.16"/>
</g>
<rect x="297.7" y="33.8" width="194.6" height="149.6" fill="#050505"/>
<rect x="366" y="40" width="120" height="137" fill="#0a0a0a"/>
<g clip-path="url(#cx1)">
<rect x="301" y="39.6" width="51" height="139" fill="#070707"/>
<path d="M330 60 L352 58 L352 148 C349 154 351 160 347 165 C344 169 345 175 341 178.4 L330 178.4 Z" fill="#4b4b4b" filter="url(#b1)"/>
<path d="M341 88 C347 100 350 120 347 138 C345 150 341 160 339 170" stroke="#5e5e5e" stroke-width="3" fill="none" filter="url(#b2)"/>
<path d="M301 168 L309 166 L309 178.4 L301 178.4Z" fill="#4c4c4c" filter="url(#b05)"/>
<path d="M301 60 C303.5 57 306 70 307.4 84 L304 86 Z" fill="#3a3a3a" filter="url(#b1)"/>
<linearGradient id="hg1" x1="0" x2="0" y1="40" y2="112" gradientUnits="userSpaceOnUse"><stop offset="0" stop-color="#fff" stop-opacity="0.42"/><stop offset="0.6" stop-color="#fff" stop-opacity="0.28"/><stop offset="1" stop-color="#fff" stop-opacity="0"/></linearGradient>
<linearGradient id="hm1" x1="0" x2="0" y1="40" y2="118" gradientUnits="userSpaceOnUse"><stop offset="0" stop-color="#fff"/><stop offset="0.6" stop-color="#ccc"/><stop offset="1" stop-color="#000"/></linearGradient>
<mask id="xm1" maskUnits="userSpaceOnUse" x="300" y="38" width="54" height="142"><rect x="300" y="38" width="54" height="142" fill="url(#hm1)"/></mask>
<g filter="url(#b05)">
<path d="M307.7 178.4C307.7 169.0 307.8 135.4 307.7 122.0C307.6 108.6 307.5 104.0 307.4 98.0C307.2 92.0 307.2 89.8 306.8 86.0C306.4 82.2 305.6 78.9 305.0 75.3C304.4 71.7 303.3 68.0 303.2 64.4C303.1 60.8 303.1 56.6 304.1 53.6C305.2 50.6 306.9 48.4 309.5 46.4C312.1 44.4 315.6 42.9 319.4 41.9C323.2 40.9 327.9 40.2 332.1 40.1C336.3 40.0 341.4 40.2 344.7 41.0C348.0 41.8 350.6 42.4 351.9 44.6C353.2 46.8 352.4 51.0 352.4 54.0C352.4 57.0 352.9 60.6 351.9 62.6C350.9 64.7 348.3 65.3 346.5 66.3C344.7 67.3 342.5 67.3 341.1 68.5C339.8 69.7 339.2 70.6 338.4 73.5C337.5 76.4 336.6 81.0 336.0 86.1C335.4 91.2 335.1 95.1 334.8 104.1C334.6 113.1 334.6 127.6 334.5 140.0C334.4 152.4 334.4 172.0 334.4 178.4Z" fill="url(#shaft1)"/>
<path d="M307.7 178.4C307.7 169.0 307.8 135.4 307.7 122.0C307.6 108.6 307.5 104.0 307.4 98.0C307.2 92.0 307.2 89.8 306.8 86.0C306.4 82.2 305.6 78.9 305.0 75.3C304.4 71.7 303.3 68.0 303.2 64.4C303.1 60.8 303.1 56.6 304.1 53.6C305.2 50.6 306.9 48.4 309.5 46.4C312.1 44.4 315.6 42.9 319.4 41.9C323.2 40.9 327.9 40.2 332.1 40.1C336.3 40.0 341.4 40.2 344.7 41.0C348.0 41.8 350.6 42.4 351.9 44.6C353.2 46.8 352.4 51.0 352.4 54.0C352.4 57.0 352.9 60.6 351.9 62.6C350.9 64.7 348.3 65.3 346.5 66.3C344.7 67.3 342.5 67.3 341.1 68.5C339.8 69.7 339.2 70.6 338.4 73.5C337.5 76.4 336.6 81.0 336.0 86.1C335.4 91.2 335.1 95.1 334.8 104.1C334.6 113.1 334.6 127.6 334.5 140.0C334.4 152.4 334.4 172.0 334.4 178.4Z" fill="url(#hg1)"/>
</g>
<g mask="url(#xm1)"><path d="M307.7 178.4C307.7 169.0 307.8 135.4 307.7 122.0C307.6 108.6 307.5 104.0 307.4 98.0C307.2 92.0 307.2 89.8 306.8 86.0C306.4 82.2 305.6 78.9 305.0 75.3C304.4 71.7 303.3 68.0 303.2 64.4C303.1 60.8 303.1 56.6 304.1 53.6C305.2 50.6 306.9 48.4 309.5 46.4C312.1 44.4 315.6 42.9 319.4 41.9C323.2 40.9 327.9 40.2 332.1 40.1C336.3 40.0 341.4 40.2 344.7 41.0C348.0 41.8 350.6 42.4 351.9 44.6C353.2 46.8 352.4 51.0 352.4 54.0C352.4 57.0 352.9 60.6 351.9 62.6C350.9 64.7 348.3 65.3 346.5 66.3C344.7 67.3 342.5 67.3 341.1 68.5C339.8 69.7 339.2 70.6 338.4 73.5C337.5 76.4 336.6 81.0 336.0 86.1C335.4 91.2 335.1 95.1 334.8 104.1C334.6 113.1 334.6 127.6 334.5 140.0C334.4 152.4 334.4 172.0 334.4 178.4Z" fill="#fff" filter="url(#xtexW)" opacity="0.5"/><path d="M307.7 178.4C307.7 169.0 307.8 135.4 307.7 122.0C307.6 108.6 307.5 104.0 307.4 98.0C307.2 92.0 307.2 89.8 306.8 86.0C306.4 82.2 305.6 78.9 305.0 75.3C304.4 71.7 303.3 68.0 303.2 64.4C303.1 60.8 303.1 56.6 304.1 53.6C305.2 50.6 306.9 48.4 309.5 46.4C312.1 44.4 315.6 42.9 319.4 41.9C323.2 40.9 327.9 40.2 332.1 40.1C336.3 40.0 341.4 40.2 344.7 41.0C348.0 41.8 350.6 42.4 351.9 44.6C353.2 46.8 352.4 51.0 352.4 54.0C352.4 57.0 352.9 60.6 351.9 62.6C350.9 64.7 348.3 65.3 346.5 66.3C344.7 67.3 342.5 67.3 341.1 68.5C339.8 69.7 339.2 70.6 338.4 73.5C337.5 76.4 336.6 81.0 336.0 86.1C335.4 91.2 335.1 95.1 334.8 104.1C334.6 113.1 334.6 127.6 334.5 140.0C334.4 152.4 334.4 172.0 334.4 178.4Z" fill="#fff" filter="url(#xtex)" opacity="0.22"/></g>
<rect x="301" y="39.6" width="51" height="139" filter="url(#grainW)" opacity="0.10"/>
<rect x="307.2" y="129.4" width="27.2" height="3.1" fill="#f0412f" filter="url(#soft)"/>
</g>
<g transform="translate(427.8 108) rotate(-30)">
<ellipse rx="56" ry="46" fill="#141414" filter="url(#b3)"/>
<g filter="url(#b08)">
<ellipse rx="51.2" ry="41.4" fill="#d0d0d0"/>
<ellipse rx="42.4" ry="33" fill="#1d1d1d"/>
</g></g>
<path d="M433 132 L434.4 141" stroke="#9a9a9a" stroke-width="1.4" filter="url(#b05)"/>
<circle cx="409" cy="112" r="0.9" fill="#8a8a8a"/><circle cx="415" cy="121" r="0.9" fill="#8a8a8a"/>
<rect x="366" y="40" width="120" height="137" filter="url(#grainW)" opacity="0.12"/>
<rect x="497.3" y="34" width="186.2" height="149.5" fill="#050505"/>
<rect x="556" y="40" width="124" height="138" fill="#0a0a0a"/>
<g clip-path="url(#cx2)">
<rect x="501" y="39.6" width="48" height="139" fill="#060606"/>
<path d="M528 72 L536 69 C538.5 80 537 98 534.6 112 C533 130 533.4 150 532 170 L528 170Z" fill="#2c2c2c" filter="url(#b1)"/>
<linearGradient id="hg2" x1="0" x2="0" y1="40" y2="104" gradientUnits="userSpaceOnUse"><stop offset="0" stop-color="#fff" stop-opacity="0.3"/><stop offset="0.6" stop-color="#fff" stop-opacity="0.18"/><stop offset="1" stop-color="#fff" stop-opacity="0"/></linearGradient>
<g filter="url(#b05)">
<path d="M508.6 178.4C508.4 173.7 507.8 161.4 507.4 150.0C507.0 138.6 506.3 119.2 506.0 110.0C505.7 100.8 505.8 99.3 505.4 95.0C504.9 90.7 504.0 88.2 503.3 84.0C502.6 79.8 501.8 74.8 501.4 70.0C501.0 65.2 501.0 59.2 501.2 55.0C501.4 50.8 500.8 47.2 502.6 45.0C504.4 42.8 507.4 42.2 512.0 41.5C516.6 40.8 524.0 40.8 530.0 40.6C536.0 40.4 544.9 38.5 548.0 40.4C551.1 42.3 548.5 48.4 548.4 52.0C548.3 55.6 548.3 59.7 547.6 62.0C546.9 64.3 545.4 65.0 544.0 66.0C542.6 67.0 540.8 66.7 539.5 68.0C538.2 69.3 537.1 71.3 536.0 74.0C534.9 76.7 533.8 79.7 533.0 84.0C532.2 88.3 531.5 92.3 531.0 100.0C530.5 107.7 530.4 116.9 530.2 130.0C530.0 143.1 529.7 170.3 529.6 178.4Z" fill="url(#shaft2)"/>
<path d="M508.6 178.4C508.4 173.7 507.8 161.4 507.4 150.0C507.0 138.6 506.3 119.2 506.0 110.0C505.7 100.8 505.8 99.3 505.4 95.0C504.9 90.7 504.0 88.2 503.3 84.0C502.6 79.8 501.8 74.8 501.4 70.0C501.0 65.2 501.0 59.2 501.2 55.0C501.4 50.8 500.8 47.2 502.6 45.0C504.4 42.8 507.4 42.2 512.0 41.5C516.6 40.8 524.0 40.8 530.0 40.6C536.0 40.4 544.9 38.5 548.0 40.4C551.1 42.3 548.5 48.4 548.4 52.0C548.3 55.6 548.3 59.7 547.6 62.0C546.9 64.3 545.4 65.0 544.0 66.0C542.6 67.0 540.8 66.7 539.5 68.0C538.2 69.3 537.1 71.3 536.0 74.0C534.9 76.7 533.8 79.7 533.0 84.0C532.2 88.3 531.5 92.3 531.0 100.0C530.5 107.7 530.4 116.9 530.2 130.0C530.0 143.1 529.7 170.3 529.6 178.4Z" fill="url(#hg2)"/>
<rect x="532" y="40" width="16.4" height="1.6" fill="#f4f4f4"/>
</g>
<path d="M508.6 178.4C508.4 173.7 507.8 161.4 507.4 150.0C507.0 138.6 506.3 119.2 506.0 110.0C505.7 100.8 505.8 99.3 505.4 95.0C504.9 90.7 504.0 88.2 503.3 84.0C502.6 79.8 501.8 74.8 501.4 70.0C501.0 65.2 501.0 59.2 501.2 55.0C501.4 50.8 500.8 47.2 502.6 45.0C504.4 42.8 507.4 42.2 512.0 41.5C516.6 40.8 524.0 40.8 530.0 40.6C536.0 40.4 544.9 38.5 548.0 40.4C551.1 42.3 548.5 48.4 548.4 52.0C548.3 55.6 548.3 59.7 547.6 62.0C546.9 64.3 545.4 65.0 544.0 66.0C542.6 67.0 540.8 66.7 539.5 68.0C538.2 69.3 537.1 71.3 536.0 74.0C534.9 76.7 533.8 79.7 533.0 84.0C532.2 88.3 531.5 92.3 531.0 100.0C530.5 107.7 530.4 116.9 530.2 130.0C530.0 143.1 529.7 170.3 529.6 178.4Z" fill="#fff" filter="url(#xtex)" opacity="0.5"/>
<rect x="501" y="39.6" width="48" height="139" filter="url(#grainW)" opacity="0.10"/>
<rect x="505.4" y="129.8" width="24.5" height="3.1" fill="#f0412f" filter="url(#soft)"/>
</g>
<path d="M569.6 97.6C569.9 92.0 570.9 85.0 573.1 80.0C575.3 75.1 578.5 71.0 582.8 67.8C587.0 64.6 592.1 62.4 598.5 60.8C605.0 59.2 614.0 57.8 621.3 58.1C628.6 58.4 636.2 59.7 642.3 62.5C648.5 65.3 654.0 70.4 658.1 74.8C662.2 79.2 665.0 84.1 666.9 88.8C668.8 93.5 669.5 97.8 669.5 102.8C669.5 107.8 668.8 113.6 666.9 118.6C665.0 123.5 661.9 128.2 658.1 132.6C654.3 137.0 649.3 141.4 644.1 144.9C638.8 148.4 632.1 151.6 626.6 153.6C621.0 155.7 615.8 157.0 610.8 157.1C605.8 157.3 600.9 156.5 596.8 154.5C592.7 152.5 589.5 149.1 586.3 144.9C583.1 140.6 580.0 134.3 577.5 129.1C575.0 123.8 572.7 118.6 571.4 113.3C570.1 108.1 569.3 103.1 569.6 97.6Z" fill="#1a1a1a" stroke="#1a1a1a" stroke-width="9" filter="url(#b3)"/>
<path d="M569.6 97.6C569.9 92.0 570.9 85.0 573.1 80.0C575.3 75.1 578.5 71.0 582.8 67.8C587.0 64.6 592.1 62.4 598.5 60.8C605.0 59.2 614.0 57.8 621.3 58.1C628.6 58.4 636.2 59.7 642.3 62.5C648.5 65.3 654.0 70.4 658.1 74.8C662.2 79.2 665.0 84.1 666.9 88.8C668.8 93.5 669.5 97.8 669.5 102.8C669.5 107.8 668.8 113.6 666.9 118.6C665.0 123.5 661.9 128.2 658.1 132.6C654.3 137.0 649.3 141.4 644.1 144.9C638.8 148.4 632.1 151.6 626.6 153.6C621.0 155.7 615.8 157.0 610.8 157.1C605.8 157.3 600.9 156.5 596.8 154.5C592.7 152.5 589.5 149.1 586.3 144.9C583.1 140.6 580.0 134.3 577.5 129.1C575.0 123.8 572.7 118.6 571.4 113.3C570.1 108.1 569.3 103.1 569.6 97.6Z" fill="#d0d0d0" filter="url(#b1)"/>
<g filter="url(#wob3)" fill="#1b1b1b">
<path d="M594.4 70.4C598.1 67.2 608.0 67.2 611.2 68.6C614.3 69.9 613.7 73.6 613.5 78.4C613.2 83.2 611.3 92.5 609.6 97.3C607.9 102.1 606.5 105.8 603.5 107.2C600.4 108.5 593.9 108.5 591.5 105.3C589.1 102.0 588.7 93.7 589.2 87.9C589.7 82.0 590.7 73.7 594.4 70.4Z"/>
<path d="M578.5 89.1C580.4 86.3 586.0 84.6 587.8 86.3C589.5 87.9 589.4 95.5 588.9 98.9C588.5 102.4 587.1 106.2 585.1 106.9C583.0 107.6 577.7 106.1 576.6 103.1C575.5 100.1 576.6 91.9 578.5 89.1Z"/>
<path d="M617.4 68.6C620.9 66.6 631.2 65.0 634.8 66.7C638.4 68.3 638.9 73.3 639.0 78.4C639.1 83.5 637.4 91.9 635.5 97.3C633.7 102.7 631.7 109.0 627.8 110.9C624.0 112.9 615.4 111.9 612.4 109.0C609.5 106.2 609.9 99.0 610.1 93.9C610.4 88.8 612.7 82.6 614.0 78.4C615.2 74.2 614.0 70.5 617.4 68.6Z"/>
<path d="M640.9 74.3C643.3 73.2 650.4 73.9 653.3 76.2C656.2 78.5 658.2 84.7 658.3 87.9C658.4 91.2 656.2 95.2 653.7 95.9C651.2 96.6 645.7 94.3 643.3 92.1C640.8 89.9 639.4 85.6 639.0 82.6C638.6 79.7 638.6 75.4 640.9 74.3Z"/>
<path d="M642.7 96.8C645.4 95.1 653.9 94.8 657.0 96.4C660.1 98.0 661.2 102.6 661.2 106.2C661.2 109.8 659.4 116.3 657.0 118.0C654.6 119.6 649.7 118.0 647.0 116.1C644.3 114.1 641.5 109.5 640.8 106.2C640.1 103.0 640.0 98.4 642.7 96.8Z"/>
<path d="M574.7 113.1C576.7 111.1 581.7 110.9 584.7 111.2C587.7 111.5 592.1 112.9 592.8 115.0C593.5 117.0 590.9 121.0 589.0 123.3C587.0 125.6 583.6 129.0 580.9 129.0C578.2 129.0 573.8 125.9 572.8 123.3C571.7 120.6 572.7 115.1 574.7 113.1Z"/>
<path d="M595.2 114.9C598.2 113.4 607.1 112.9 610.7 113.9C614.3 115.0 616.8 118.8 616.8 121.0C616.9 123.1 614.0 125.7 611.0 127.0C608.1 128.3 602.1 129.6 599.1 128.9C596.1 128.2 593.6 125.2 592.9 122.8C592.3 120.5 592.3 116.4 595.2 114.9Z"/>
<path d="M583.6 129.9C585.8 128.5 594.7 129.8 599.4 131.4C604.0 133.0 608.9 136.7 611.3 139.4C613.7 142.0 615.6 145.9 613.6 147.3C611.6 148.7 604.0 148.9 599.4 147.7C594.7 146.4 588.5 142.7 585.9 139.7C583.2 136.8 581.3 131.3 583.6 129.9Z"/>
<path d="M606.2 130.0C607.5 127.9 616.8 126.2 620.1 126.8C623.3 127.5 625.5 131.3 625.8 133.8C626.2 136.3 624.3 140.8 622.0 141.8C619.7 142.8 614.6 141.8 612.0 139.9C609.3 137.9 604.8 132.2 606.2 130.0Z"/>
<path d="M628.5 114.8C631.8 113.8 639.4 115.1 642.4 116.7C645.4 118.3 647.3 121.7 646.6 124.7C646.0 127.6 641.9 133.2 638.5 134.5C635.2 135.8 629.3 134.6 626.6 132.6C623.9 130.6 622.0 125.7 622.3 122.8C622.7 119.8 625.2 115.8 628.5 114.8Z"/>
<path d="M626.6 136.0C628.9 134.2 640.1 132.6 642.4 133.7C644.7 134.8 642.8 140.8 640.4 142.6C638.1 144.4 630.8 145.6 628.5 144.5C626.2 143.4 624.3 137.8 626.6 136.0Z"/>
<path d="M630.4 96.9C632.0 94.7 636.5 93.7 638.1 95.0C639.8 96.2 641.1 101.6 640.4 104.4C639.8 107.3 636.2 111.4 634.3 112.0C632.3 112.6 629.5 110.7 628.9 108.2C628.2 105.7 628.9 99.1 630.4 96.9Z"/>
<path d="M619.3 58.7C621.1 57.9 629.1 57.3 630.9 58.0C632.6 58.6 631.7 61.7 629.9 62.5C628.1 63.4 622.0 63.7 620.3 63.1C618.5 62.5 617.5 59.6 619.3 58.7Z"/>
</g>
<g fill="none" stroke="#7a7a7a" stroke-width="2" stroke-linecap="round" filter="url(#b2)">
<path d="M625.2 73.0C625.4 75.1 626.9 81.2 626.6 85.3C626.2 89.4 623.7 95.5 623.1 97.6"/>
<path d="M603.4 76.5C603.2 78.9 602.7 86.5 602.0 90.6C601.4 94.6 600.0 99.3 599.6 101.1" stroke-width="1.2"/>
<path d="M645.8 81.8 L647.6 90.6" stroke-width="1.2"/>
</g>
<rect x="556" y="40" width="124" height="138" filter="url(#grainW)" opacity="0.12"/>
<g filter="url(#soft)">
<text stroke="#161616" stroke-width="0.28" stroke-linejoin="round" x="82.47" y="242.25" font-size="12.48" font-weight="bold" textLength="42.20" lengthAdjust="spacingAndGlyphs" fill="#161616">BV/TV</text>
<path d="M97.90 330.20V324.10M96.60 324.10H99.20" stroke="#222" stroke-width="1.05" fill="none"/>
<rect x="87.90" y="330.20" width="20.50" height="59.40" fill="#fff" stroke="#8a8a8a" stroke-width="0.9"/>
<path d="M118.60 278.50V268.20M117.30 268.20H119.90" stroke="#222" stroke-width="1.05" fill="none"/>
<rect x="108.40" y="278.50" width="20.40" height="111.10" fill="#050505"/>
<path d="M72.3 258.3V389.6H133.5" stroke="#111" stroke-width="1.5" fill="none" stroke-linecap="square"/>
<path d="M69.30 389.60H72.3" stroke="#111" stroke-width="1.27"/>
<text x="57.20" y="392.73" font-size="8.7" font-weight="bold" textLength="6.00" lengthAdjust="spacingAndGlyphs" fill="#161616" stroke="#161616" stroke-width="0.22">0</text>
<path d="M69.30 370.84H72.3" stroke="#111" stroke-width="1.27"/>
<text x="57.20" y="373.97" font-size="8.7" font-weight="bold" textLength="6.00" lengthAdjust="spacingAndGlyphs" fill="#161616" stroke="#161616" stroke-width="0.22">5</text>
<path d="M69.30 352.09H72.3" stroke="#111" stroke-width="1.27"/>
<text x="51.20" y="355.22" font-size="8.7" font-weight="bold" textLength="12.00" lengthAdjust="spacingAndGlyphs" fill="#161616" stroke="#161616" stroke-width="0.22">10</text>
<path d="M69.30 333.33H72.3" stroke="#111" stroke-width="1.27"/>
<text x="51.20" y="336.46" font-size="8.7" font-weight="bold" textLength="12.00" lengthAdjust="spacingAndGlyphs" fill="#161616" stroke="#161616" stroke-width="0.22">15</text>
<path d="M69.30 314.57H72.3" stroke="#111" stroke-width="1.27"/>
<text x="51.20" y="317.70" font-size="8.7" font-weight="bold" textLength="12.00" lengthAdjust="spacingAndGlyphs" fill="#161616" stroke="#161616" stroke-width="0.22">20</text>
<path d="M69.30 295.81H72.3" stroke="#111" stroke-width="1.27"/>
<text x="51.20" y="298.95" font-size="8.7" font-weight="bold" textLength="12.00" lengthAdjust="spacingAndGlyphs" fill="#161616" stroke="#161616" stroke-width="0.22">25</text>
<path d="M69.30 277.06H72.3" stroke="#111" stroke-width="1.27"/>
<text x="51.20" y="280.19" font-size="8.7" font-weight="bold" textLength="12.00" lengthAdjust="spacingAndGlyphs" fill="#161616" stroke="#161616" stroke-width="0.22">30</text>
<path d="M69.30 258.30H72.3" stroke="#111" stroke-width="1.27"/>
<text x="51.20" y="261.43" font-size="8.7" font-weight="bold" textLength="12.00" lengthAdjust="spacingAndGlyphs" fill="#161616" stroke="#161616" stroke-width="0.22">35</text>
<text x="110.50" y="271.25" font-size="14.86" font-weight="normal" textLength="15.57" lengthAdjust="spacingAndGlyphs" fill="#161616">**</text>
<text transform="rotate(-90)" stroke="#161616" stroke-width="0.28" stroke-linejoin="round" x="-318.29" y="44.61" font-size="19.29" font-weight="bold" textLength="10.37" lengthAdjust="spacingAndGlyphs" fill="#161616">%</text>
<text stroke="#161616" stroke-width="0.28" stroke-linejoin="round" x="220.66" y="242.27" font-size="13.47" font-weight="bold" textLength="40.88" lengthAdjust="spacingAndGlyphs" fill="#161616">Tb.Th.</text>
<path d="M232.00 339.50V333.00M230.70 333.00H233.30" stroke="#222" stroke-width="1.05" fill="none"/>
<rect x="222.80" y="339.50" width="18.90" height="50.10" fill="#fff" stroke="#8a8a8a" stroke-width="0.9"/>
<path d="M251.15 282.70V270.50M249.85 270.50H252.45" stroke="#222" stroke-width="1.05" fill="none"/>
<rect x="241.70" y="282.70" width="18.90" height="106.90" fill="#050505"/>
<path d="M208.5 261.8V389.6H265.7" stroke="#111" stroke-width="1.5" fill="none" stroke-linecap="square"/>
<path d="M205.50 389.60H208.5" stroke="#111" stroke-width="1.27"/>
<text x="196.05" y="392.62" font-size="8.4" font-weight="bold" textLength="4.75" lengthAdjust="spacingAndGlyphs" fill="#161616" stroke="#161616" stroke-width="0.22">0</text>
<path d="M205.50 364.04H208.5" stroke="#111" stroke-width="1.27"/>
<text x="181.80" y="367.06" font-size="8.4" font-weight="bold" textLength="19.00" lengthAdjust="spacingAndGlyphs" fill="#161616" stroke="#161616" stroke-width="0.22">0.02</text>
<path d="M205.50 338.48H208.5" stroke="#111" stroke-width="1.27"/>
<text x="181.80" y="341.50" font-size="8.4" font-weight="bold" textLength="19.00" lengthAdjust="spacingAndGlyphs" fill="#161616" stroke="#161616" stroke-width="0.22">0.04</text>
<path d="M205.50 312.92H208.5" stroke="#111" stroke-width="1.27"/>
<text x="181.80" y="315.94" font-size="8.4" font-weight="bold" textLength="19.00" lengthAdjust="spacingAndGlyphs" fill="#161616" stroke="#161616" stroke-width="0.22">0.06</text>
<path d="M205.50 287.36H208.5" stroke="#111" stroke-width="1.27"/>
<text x="181.80" y="290.38" font-size="8.4" font-weight="bold" textLength="19.00" lengthAdjust="spacingAndGlyphs" fill="#161616" stroke="#161616" stroke-width="0.22">0.08</text>
<path d="M205.50 261.80H208.5" stroke="#111" stroke-width="1.27"/>
<text x="186.55" y="264.82" font-size="8.4" font-weight="bold" textLength="14.25" lengthAdjust="spacingAndGlyphs" fill="#161616" stroke="#161616" stroke-width="0.22">0.1</text>
<text x="242.90" y="274.15" font-size="14.86" font-weight="normal" textLength="15.57" lengthAdjust="spacingAndGlyphs" fill="#161616">**</text>
<text transform="rotate(-90)" stroke="#161616" stroke-width="0.45" stroke-linejoin="round" x="-324.00" y="175.30" font-size="18.52" font-weight="normal" textLength="23.04" lengthAdjust="spacingAndGlyphs" fill="#161616">mm</text>
<text stroke="#161616" stroke-width="0.28" stroke-linejoin="round" x="112.26" y="414.76" font-size="13.61" font-weight="bold" textLength="107.23" lengthAdjust="spacingAndGlyphs" fill="#161616">Trabecular Bone</text>
<text stroke="#161616" stroke-width="0.28" stroke-linejoin="round" x="386.95" y="242.25" font-size="12.48" font-weight="bold" textLength="43.63" lengthAdjust="spacingAndGlyphs" fill="#161616">BA/TA</text>
<path d="M399.95 286.30V274.50M398.65 274.50H401.25" stroke="#222" stroke-width="1.05" fill="none"/>
<rect x="388.00" y="286.30" width="24.40" height="103.90" fill="#fff" stroke="#8a8a8a" stroke-width="0.9"/>
<path d="M424.65 279.60V272.30M423.35 272.30H425.95" stroke="#222" stroke-width="1.05" fill="none"/>
<rect x="412.40" y="279.60" width="24.50" height="110.60" fill="#050505"/>
<path d="M369 258.3V390.2H443.5" stroke="#111" stroke-width="1.9" fill="none" stroke-linecap="square"/>
<path d="M365.40 390.20H369" stroke="#111" stroke-width="1.61"/>
<text x="351.20" y="392.94" font-size="7.6" font-weight="bold" textLength="6.70" lengthAdjust="spacingAndGlyphs" fill="#161616" stroke="#161616" stroke-width="0.22">0</text>
<path d="M365.40 363.82H369" stroke="#111" stroke-width="1.61"/>
<text x="351.20" y="366.56" font-size="7.6" font-weight="bold" textLength="6.70" lengthAdjust="spacingAndGlyphs" fill="#161616" stroke="#161616" stroke-width="0.22">9</text>
<path d="M365.40 337.44H369" stroke="#111" stroke-width="1.61"/>
<text x="344.50" y="340.18" font-size="7.6" font-weight="bold" textLength="13.40" lengthAdjust="spacingAndGlyphs" fill="#161616" stroke="#161616" stroke-width="0.22">18</text>
<path d="M365.40 311.06H369" stroke="#111" stroke-width="1.61"/>
<text x="344.50" y="313.80" font-size="7.6" font-weight="bold" textLength="13.40" lengthAdjust="spacingAndGlyphs" fill="#161616" stroke="#161616" stroke-width="0.22">27</text>
<path d="M365.40 284.68H369" stroke="#111" stroke-width="1.61"/>
<text x="344.50" y="287.42" font-size="7.6" font-weight="bold" textLength="13.40" lengthAdjust="spacingAndGlyphs" fill="#161616" stroke="#161616" stroke-width="0.22">36</text>
<path d="M365.40 258.30H369" stroke="#111" stroke-width="1.61"/>
<text x="344.50" y="261.04" font-size="7.6" font-weight="bold" textLength="13.40" lengthAdjust="spacingAndGlyphs" fill="#161616" stroke="#161616" stroke-width="0.22">45</text>
<rect x="386.6" y="265.70" width="50.20" height="2.5" fill="#0a0a0a"/><text x="403.92" y="263.79" font-size="11.27" font-weight="normal" textLength="16.98" lengthAdjust="spacingAndGlyphs" fill="#161616">NS</text>
<text transform="rotate(-90)" stroke="#161616" stroke-width="0.28" stroke-linejoin="round" x="-329.73" y="333.24" font-size="16.17" font-weight="bold" textLength="11.86" lengthAdjust="spacingAndGlyphs" fill="#161616">%</text>
<text stroke="#161616" stroke-width="0.28" stroke-linejoin="round" x="548.04" y="242.27" font-size="13.47" font-weight="bold" textLength="39.92" lengthAdjust="spacingAndGlyphs" fill="#161616">Ct.Th.</text>
<path d="M560.30 298.30V291.70M559.00 291.70H561.60" stroke="#222" stroke-width="1.05" fill="none"/>
<rect x="549.10" y="298.30" width="22.90" height="91.50" fill="#fff" stroke="#8a8a8a" stroke-width="0.9"/>
<path d="M583.55 293.40V286.80M582.25 286.80H584.85" stroke="#222" stroke-width="1.05" fill="none"/>
<rect x="572.00" y="293.40" width="23.10" height="96.40" fill="#050505"/>
<path d="M530.8 258.3V389.8H601.3" stroke="#111" stroke-width="1.9" fill="none" stroke-linecap="square"/>
<path d="M527.20 389.80H530.8" stroke="#111" stroke-width="1.61"/>
<text x="502.65" y="392.39" font-size="7.2" font-weight="bold" textLength="17.85" lengthAdjust="spacingAndGlyphs" fill="#161616" stroke="#161616" stroke-width="0.22">0.1</text>
<path d="M527.20 363.50H530.8" stroke="#111" stroke-width="1.61"/>
<text x="496.70" y="366.09" font-size="7.2" font-weight="bold" textLength="23.80" lengthAdjust="spacingAndGlyphs" fill="#161616" stroke="#161616" stroke-width="0.22">0.12</text>
<path d="M527.20 337.20H530.8" stroke="#111" stroke-width="1.61"/>
<text x="496.70" y="339.79" font-size="7.2" font-weight="bold" textLength="23.80" lengthAdjust="spacingAndGlyphs" fill="#161616" stroke="#161616" stroke-width="0.22">0.14</text>
<path d="M527.20 310.90H530.8" stroke="#111" stroke-width="1.61"/>
<text x="496.70" y="313.49" font-size="7.2" font-weight="bold" textLength="23.80" lengthAdjust="spacingAndGlyphs" fill="#161616" stroke="#161616" stroke-width="0.22">0.16</text>
<path d="M527.20 284.60H530.8" stroke="#111" stroke-width="1.61"/>
<text x="496.70" y="287.19" font-size="7.2" font-weight="bold" textLength="23.80" lengthAdjust="spacingAndGlyphs" fill="#161616" stroke="#161616" stroke-width="0.22">0.18</text>
<path d="M527.20 258.30H530.8" stroke="#111" stroke-width="1.61"/>
<text x="502.65" y="260.89" font-size="7.2" font-weight="bold" textLength="17.85" lengthAdjust="spacingAndGlyphs" fill="#161616" stroke="#161616" stroke-width="0.22">0.2</text>
<rect x="547.9" y="281.65" width="47.20" height="2.5" fill="#0a0a0a"/><text x="562.53" y="279.59" font-size="11.27" font-weight="normal" textLength="16.87" lengthAdjust="spacingAndGlyphs" fill="#161616">NS</text>
<text transform="rotate(-90)" stroke="#161616" stroke-width="0.5" stroke-linejoin="round" x="-332.81" y="489.00" font-size="16.67" font-weight="bold" textLength="27.51" lengthAdjust="spacingAndGlyphs" fill="#161616">mm</text>
<text stroke="#161616" stroke-width="0.28" stroke-linejoin="round" x="436.35" y="414.76" font-size="13.61" font-weight="bold" textLength="88.64" lengthAdjust="spacingAndGlyphs" fill="#161616">Cortical Bone</text>
<rect x="610.8" y="231.9" width="9.2" height="9.2" fill="#fff" stroke="#777" stroke-width="1"/><rect x="610.3" y="263" width="10.2" height="10.2" fill="#050505"/><text stroke="#161616" stroke-width="0.28" stroke-linejoin="round" x="624.74" y="241.40" font-size="15.94" font-weight="bold" textLength="44.26" lengthAdjust="spacingAndGlyphs" fill="#161616">T1DM</text><text stroke="#161616" stroke-width="0.28" stroke-linejoin="round" x="624.76" y="272.85" font-size="15.49" font-weight="bold" textLength="42.27" lengthAdjust="spacingAndGlyphs" fill="#161616">T1-CA</text>
<text stroke="#161616" stroke-width="0.28" stroke-linejoin="round" x="99.56" y="462.85" font-size="14.69" font-weight="bold" textLength="109.34" lengthAdjust="spacingAndGlyphs" fill="#161616">Trabecular Bone</text>
<text stroke="#161616" stroke-width="0.28" stroke-linejoin="round" x="28.15" y="487.66" font-size="12.21" font-weight="bold" textLength="59.35" lengthAdjust="spacingAndGlyphs" fill="#161616">N.Ob/T.Ar</text>
<path d="M54.70 588.40V585.10M53.20 585.10H56.20" stroke="#222" stroke-width="1.05" fill="none"/>
<rect x="46.80" y="588.40" width="16.30" height="47.70" fill="#fff" stroke="#8a8a8a" stroke-width="0.9"/>
<path d="M71.05 522.30V515.60M69.55 515.60H72.55" stroke="#222" stroke-width="1.05" fill="none"/>
<rect x="63.10" y="522.30" width="15.90" height="113.80" fill="#050505"/>
<path d="M34.7 501.4V636.1H84.4" stroke="#111" stroke-width="1.6" fill="none" stroke-linecap="square"/>
<path d="M31.70 636.10H34.7" stroke="#111" stroke-width="1.36"/>
<text x="27.3" y="638.76" font-size="7.4" font-weight="bold" text-anchor="end" fill="#161616" stroke="#161616" stroke-width="0.22">0</text>
<path d="M31.70 591.20H34.7" stroke="#111" stroke-width="1.36"/>
<text x="27.3" y="593.86" font-size="7.4" font-weight="bold" text-anchor="end" fill="#161616" stroke="#161616" stroke-width="0.22">6</text>
<path d="M31.70 546.30H34.7" stroke="#111" stroke-width="1.36"/>
<text x="27.3" y="548.96" font-size="7.4" font-weight="bold" text-anchor="end" fill="#161616" stroke="#161616" stroke-width="0.22">12</text>
<path d="M31.70 501.40H34.7" stroke="#111" stroke-width="1.36"/>
<text x="27.3" y="504.06" font-size="7.4" font-weight="bold" text-anchor="end" fill="#161616" stroke="#161616" stroke-width="0.22">18</text>
<text stroke="#161616" stroke-width="0.25" stroke-linejoin="round" x="64.38" y="519.45" font-size="14.86" font-weight="normal" textLength="11.21" lengthAdjust="spacingAndGlyphs" fill="#161616">**</text>
<text transform="rotate(-90)" stroke="#161616" stroke-width="0.25" x="-584.07" y="11.56" font-size="11.78" font-weight="bold" textLength="35.59" lengthAdjust="spacingAndGlyphs" fill="#161616">10/mm</text><text transform="rotate(-90)" stroke="#161616" stroke-width="0.25" x="-548.49" y="6.61" font-size="7.31" font-weight="bold" textLength="3.87" lengthAdjust="spacingAndGlyphs" fill="#161616">2</text>
<text stroke="#161616" stroke-width="0.28" stroke-linejoin="round" x="130.72" y="487.66" font-size="12.21" font-weight="bold" textLength="48.01" lengthAdjust="spacingAndGlyphs" fill="#161616">Ob.S/BS</text>
<path d="M149.20 581.20V577.40M147.70 577.40H150.70" stroke="#222" stroke-width="1.05" fill="none"/>
<rect x="142.00" y="581.20" width="14.90" height="55.40" fill="#fff" stroke="#8a8a8a" stroke-width="0.9"/>
<path d="M164.00 515.90V509.40M162.50 509.40H165.50" stroke="#222" stroke-width="1.05" fill="none"/>
<rect x="156.90" y="515.90" width="14.20" height="120.70" fill="#050505"/>
<path d="M130.7 502.2V636.6H174.9" stroke="#111" stroke-width="1.6" fill="none" stroke-linecap="square"/>
<path d="M127.70 636.60H130.7" stroke="#111" stroke-width="1.36"/>
<text x="123.6" y="639.26" font-size="7.4" font-weight="bold" text-anchor="end" fill="#161616" stroke="#161616" stroke-width="0.22">0</text>
<path d="M127.70 609.72H130.7" stroke="#111" stroke-width="1.36"/>
<text x="123.6" y="612.38" font-size="7.4" font-weight="bold" text-anchor="end" fill="#161616" stroke="#161616" stroke-width="0.22">5</text>
<path d="M127.70 582.84H130.7" stroke="#111" stroke-width="1.36"/>
<text x="123.6" y="585.50" font-size="7.4" font-weight="bold" text-anchor="end" fill="#161616" stroke="#161616" stroke-width="0.22">10</text>
<path d="M127.70 555.96H130.7" stroke="#111" stroke-width="1.36"/>
<text x="123.6" y="558.62" font-size="7.4" font-weight="bold" text-anchor="end" fill="#161616" stroke="#161616" stroke-width="0.22">15</text>
<path d="M127.70 529.08H130.7" stroke="#111" stroke-width="1.36"/>
<text x="123.6" y="531.74" font-size="7.4" font-weight="bold" text-anchor="end" fill="#161616" stroke="#161616" stroke-width="0.22">20</text>
<path d="M127.70 502.20H130.7" stroke="#111" stroke-width="1.36"/>
<text x="123.6" y="504.86" font-size="7.4" font-weight="bold" text-anchor="end" fill="#161616" stroke="#161616" stroke-width="0.22">25</text>
<text stroke="#161616" stroke-width="0.25" stroke-linejoin="round" x="157.78" y="513.45" font-size="14.86" font-weight="normal" textLength="11.21" lengthAdjust="spacingAndGlyphs" fill="#161616">**</text>
<text transform="rotate(-90)" stroke="#161616" stroke-width="0.28" stroke-linejoin="round" x="-561.52" y="110.47" font-size="13.33" font-weight="bold" textLength="11.43" lengthAdjust="spacingAndGlyphs" fill="#161616">%</text>
<text stroke="#161616" stroke-width="0.28" stroke-linejoin="round" x="237.70" y="487.27" font-size="11.54" font-weight="bold" textLength="40.20" lengthAdjust="spacingAndGlyphs" fill="#161616">BFR/BS</text>
<path d="M253.75 593.60V590.00M252.25 590.00H255.25" stroke="#222" stroke-width="1.05" fill="none"/>
<rect x="245.90" y="593.60" width="16.20" height="42.00" fill="#fff" stroke="#8a8a8a" stroke-width="0.9"/>
<path d="M270.20 528.80V522.30M268.70 522.30H271.70" stroke="#222" stroke-width="1.05" fill="none"/>
<rect x="262.10" y="528.80" width="16.20" height="106.80" fill="#050505"/>
<path d="M233.3 501.5V635.6H282.7" stroke="#111" stroke-width="1.6" fill="none" stroke-linecap="square"/>
<path d="M230.30 635.60H233.3" stroke="#111" stroke-width="1.36"/>
<text x="222.80" y="638.26" font-size="7.4" font-weight="bold" textLength="4.50" lengthAdjust="spacingAndGlyphs" fill="#161616" stroke="#161616" stroke-width="0.22">0</text>
<path d="M230.30 616.44H233.3" stroke="#111" stroke-width="1.36"/>
<text x="213.80" y="619.11" font-size="7.4" font-weight="bold" textLength="13.50" lengthAdjust="spacingAndGlyphs" fill="#161616" stroke="#161616" stroke-width="0.22">0.1</text>
<path d="M230.30 597.29H233.3" stroke="#111" stroke-width="1.36"/>
<text x="213.80" y="599.95" font-size="7.4" font-weight="bold" textLength="13.50" lengthAdjust="spacingAndGlyphs" fill="#161616" stroke="#161616" stroke-width="0.22">0.2</text>
<path d="M230.30 578.13H233.3" stroke="#111" stroke-width="1.36"/>
<text x="213.80" y="580.79" font-size="7.4" font-weight="bold" textLength="13.50" lengthAdjust="spacingAndGlyphs" fill="#161616" stroke="#161616" stroke-width="0.22">0.3</text>
<path d="M230.30 558.97H233.3" stroke="#111" stroke-width="1.36"/>
<text x="213.80" y="561.64" font-size="7.4" font-weight="bold" textLength="13.50" lengthAdjust="spacingAndGlyphs" fill="#161616" stroke="#161616" stroke-width="0.22">0.4</text>
<path d="M230.30 539.81H233.3" stroke="#111" stroke-width="1.36"/>
<text x="213.80" y="542.48" font-size="7.4" font-weight="bold" textLength="13.50" lengthAdjust="spacingAndGlyphs" fill="#161616" stroke="#161616" stroke-width="0.22">0.5</text>
<path d="M230.30 520.66H233.3" stroke="#111" stroke-width="1.36"/>
<text x="213.80" y="523.32" font-size="7.4" font-weight="bold" textLength="13.50" lengthAdjust="spacingAndGlyphs" fill="#161616" stroke="#161616" stroke-width="0.22">0.6</text>
<path d="M230.30 501.50H233.3" stroke="#111" stroke-width="1.36"/>
<text x="213.80" y="504.16" font-size="7.4" font-weight="bold" textLength="13.50" lengthAdjust="spacingAndGlyphs" fill="#161616" stroke="#161616" stroke-width="0.22">0.7</text>
<text stroke="#161616" stroke-width="0.25" stroke-linejoin="round" x="264.18" y="525.65" font-size="14.86" font-weight="normal" textLength="11.21" lengthAdjust="spacingAndGlyphs" fill="#161616">**</text>
<text transform="rotate(-90)" stroke="#161616" stroke-width="0.25" x="-587.38" y="201.97" font-size="11.09" font-weight="bold" textLength="17.49" lengthAdjust="spacingAndGlyphs" fill="#161616">µm</text><text transform="rotate(-90)" stroke="#161616" stroke-width="0.25" x="-569.89" y="197.31" font-size="6.88" font-weight="bold" textLength="4.12" lengthAdjust="spacingAndGlyphs" fill="#161616">3</text><text transform="rotate(-90)" stroke="#161616" stroke-width="0.25" x="-565.77" y="201.97" font-size="11.09" font-weight="bold" textLength="20.81" lengthAdjust="spacingAndGlyphs" fill="#161616">/µm</text><text transform="rotate(-90)" stroke="#161616" stroke-width="0.25" x="-544.96" y="197.31" font-size="6.88" font-weight="bold" textLength="4.12" lengthAdjust="spacingAndGlyphs" fill="#161616">2</text><text transform="rotate(-90)" stroke="#161616" stroke-width="0.25" x="-540.85" y="201.97" font-size="11.09" font-weight="bold" textLength="10.61" lengthAdjust="spacingAndGlyphs" fill="#161616">/d</text>
<rect x="293.0" y="469.3" width="8" height="8" fill="#fff" stroke="#777" stroke-width="1"/><rect x="292.5" y="496.3" width="9" height="9" fill="#050505"/><text stroke="#161616" stroke-width="0.28" stroke-linejoin="round" x="306.35" y="477.70" font-size="14.64" font-weight="bold" textLength="39.93" lengthAdjust="spacingAndGlyphs" fill="#161616">T1DM</text><text stroke="#161616" stroke-width="0.28" stroke-linejoin="round" x="306.37" y="505.06" font-size="14.23" font-weight="bold" textLength="37.81" lengthAdjust="spacingAndGlyphs" fill="#161616">T1-CA</text>
<text stroke="#161616" stroke-width="0.28" stroke-linejoin="round" x="92.90" y="663.36" font-size="14.29" font-weight="bold" textLength="136.92" lengthAdjust="spacingAndGlyphs" fill="#161616">Endocortical surface</text>
<rect x="68.9" y="670.5" width="184.9" height="1.5" fill="#111"/>
<text stroke="#161616" stroke-width="0.28" stroke-linejoin="round" x="23.00" y="689.36" font-size="12.21" font-weight="bold" textLength="56.09" lengthAdjust="spacingAndGlyphs" fill="#161616">N.Ob/T.Ar</text>
<path d="M51.35 771.00V769.00M49.85 769.00H52.85" stroke="#222" stroke-width="1.05" fill="none"/>
<rect x="43.80" y="771.00" width="15.60" height="77.40" fill="#fff" stroke="#8a8a8a" stroke-width="0.9"/>
<path d="M67.00 720.70V713.40M65.50 713.40H68.50" stroke="#222" stroke-width="1.05" fill="none"/>
<rect x="59.40" y="720.70" width="15.20" height="127.70" fill="#050505"/>
<path d="M32.1 706.4V848.4H80.2" stroke="#111" stroke-width="1.6" fill="none" stroke-linecap="square"/>
<path d="M29.10 848.40H32.1" stroke="#111" stroke-width="1.36"/>
<text x="25.2" y="851.06" font-size="7.4" font-weight="bold" text-anchor="end" fill="#161616" stroke="#161616" stroke-width="0.22">0</text>
<path d="M29.10 828.11H32.1" stroke="#111" stroke-width="1.36"/>
<text x="25.2" y="830.78" font-size="7.4" font-weight="bold" text-anchor="end" fill="#161616" stroke="#161616" stroke-width="0.22">1</text>
<path d="M29.10 807.83H32.1" stroke="#111" stroke-width="1.36"/>
<text x="25.2" y="810.49" font-size="7.4" font-weight="bold" text-anchor="end" fill="#161616" stroke="#161616" stroke-width="0.22">2</text>
<path d="M29.10 787.54H32.1" stroke="#111" stroke-width="1.36"/>
<text x="25.2" y="790.21" font-size="7.4" font-weight="bold" text-anchor="end" fill="#161616" stroke="#161616" stroke-width="0.22">3</text>
<path d="M29.10 767.26H32.1" stroke="#111" stroke-width="1.36"/>
<text x="25.2" y="769.92" font-size="7.4" font-weight="bold" text-anchor="end" fill="#161616" stroke="#161616" stroke-width="0.22">4</text>
<path d="M29.10 746.97H32.1" stroke="#111" stroke-width="1.36"/>
<text x="25.2" y="749.64" font-size="7.4" font-weight="bold" text-anchor="end" fill="#161616" stroke="#161616" stroke-width="0.22">5</text>
<path d="M29.10 726.69H32.1" stroke="#111" stroke-width="1.36"/>
<text x="25.2" y="729.35" font-size="7.4" font-weight="bold" text-anchor="end" fill="#161616" stroke="#161616" stroke-width="0.22">6</text>
<path d="M29.10 706.40H32.1" stroke="#111" stroke-width="1.36"/>
<text x="25.2" y="709.06" font-size="7.4" font-weight="bold" text-anchor="end" fill="#161616" stroke="#161616" stroke-width="0.22">7</text>
<text stroke="#161616" stroke-width="0.3" stroke-linejoin="round" x="61.18" y="715.65" font-size="14.86" font-weight="normal" textLength="11.41" lengthAdjust="spacingAndGlyphs" fill="#161616">**</text>
<text transform="rotate(-90)" stroke="#161616" stroke-width="0.45" x="-793.43" y="14.77" font-size="13.08" font-weight="normal" textLength="37.76" lengthAdjust="spacingAndGlyphs" fill="#161616">10/mm</text><text transform="rotate(-90)" stroke="#161616" stroke-width="0.45" x="-755.67" y="9.28" font-size="8.11" font-weight="normal" textLength="4.26" lengthAdjust="spacingAndGlyphs" fill="#161616">2</text>
<text stroke="#161616" stroke-width="0.28" stroke-linejoin="round" x="126.35" y="689.36" font-size="12.21" font-weight="bold" textLength="45.46" lengthAdjust="spacingAndGlyphs" fill="#161616">Ob.S/BS</text>
<path d="M154.75 755.70V752.70M153.25 752.70H156.25" stroke="#222" stroke-width="1.05" fill="none"/>
<rect x="147.40" y="755.70" width="15.20" height="93.50" fill="#fff" stroke="#8a8a8a" stroke-width="0.9"/>
<path d="M170.15 741.50V733.40M168.65 733.40H171.65" stroke="#222" stroke-width="1.05" fill="none"/>
<rect x="162.60" y="741.50" width="15.10" height="107.70" fill="#050505"/>
<path d="M134.6 706.4V849.2H183.9" stroke="#111" stroke-width="1.6" fill="none" stroke-linecap="square"/>
<path d="M131.60 849.20H134.6" stroke="#111" stroke-width="1.36"/>
<text x="127.6" y="851.86" font-size="7.4" font-weight="bold" text-anchor="end" fill="#161616" stroke="#161616" stroke-width="0.22">0</text>
<path d="M131.60 820.64H134.6" stroke="#111" stroke-width="1.36"/>
<text x="127.6" y="823.30" font-size="7.4" font-weight="bold" text-anchor="end" fill="#161616" stroke="#161616" stroke-width="0.22">5</text>
<path d="M131.60 792.08H134.6" stroke="#111" stroke-width="1.36"/>
<text x="127.6" y="794.74" font-size="7.4" font-weight="bold" text-anchor="end" fill="#161616" stroke="#161616" stroke-width="0.22">10</text>
<path d="M131.60 763.52H134.6" stroke="#111" stroke-width="1.36"/>
<text x="127.6" y="766.18" font-size="7.4" font-weight="bold" text-anchor="end" fill="#161616" stroke="#161616" stroke-width="0.22">15</text>
<path d="M131.60 734.96H134.6" stroke="#111" stroke-width="1.36"/>
<text x="127.6" y="737.62" font-size="7.4" font-weight="bold" text-anchor="end" fill="#161616" stroke="#161616" stroke-width="0.22">20</text>
<path d="M131.60 706.40H134.6" stroke="#111" stroke-width="1.36"/>
<text x="127.6" y="709.06" font-size="7.4" font-weight="bold" text-anchor="end" fill="#161616" stroke="#161616" stroke-width="0.22">25</text>
<text x="167.73" y="735.18" font-size="12.43" font-weight="bold" textLength="5.12" lengthAdjust="spacingAndGlyphs" fill="#161616">*</text>
<text transform="rotate(-90)" stroke="#161616" stroke-width="0.3" stroke-linejoin="round" x="-776.59" y="115.34" font-size="12.86" font-weight="normal" textLength="9.98" lengthAdjust="spacingAndGlyphs" fill="#161616">%</text>
<text stroke="#161616" stroke-width="0.28" stroke-linejoin="round" x="236.35" y="687.57" font-size="11.54" font-weight="bold" textLength="42.98" lengthAdjust="spacingAndGlyphs" fill="#161616">BFR/BS</text>
<path d="M256.00 758.90V754.40M254.50 754.40H257.50" stroke="#222" stroke-width="1.05" fill="none"/>
<rect x="248.10" y="758.90" width="16.30" height="88.90" fill="#fff" stroke="#8a8a8a" stroke-width="0.9"/>
<path d="M272.65 746.40V735.10M271.15 735.10H274.15" stroke="#222" stroke-width="1.05" fill="none"/>
<rect x="264.40" y="746.40" width="16.50" height="101.40" fill="#050505"/>
<path d="M234.6 705.1V847.8H289.6" stroke="#111" stroke-width="1.6" fill="none" stroke-linecap="square"/>
<path d="M231.60 847.80H234.6" stroke="#111" stroke-width="1.36"/>
<text x="227.8" y="850.25" font-size="6.8" font-weight="bold" text-anchor="end" fill="#161616" stroke="#161616" stroke-width="0.22">0</text>
<path d="M231.60 812.12H234.6" stroke="#111" stroke-width="1.36"/>
<text x="227.8" y="814.57" font-size="6.8" font-weight="bold" text-anchor="end" fill="#161616" stroke="#161616" stroke-width="0.22">0.1</text>
<path d="M231.60 776.45H234.6" stroke="#111" stroke-width="1.36"/>
<text x="227.8" y="778.90" font-size="6.8" font-weight="bold" text-anchor="end" fill="#161616" stroke="#161616" stroke-width="0.22">0.2</text>
<path d="M231.60 740.77H234.6" stroke="#111" stroke-width="1.36"/>
<text x="227.8" y="743.22" font-size="6.8" font-weight="bold" text-anchor="end" fill="#161616" stroke="#161616" stroke-width="0.22">0.3</text>
<path d="M231.60 705.10H234.6" stroke="#111" stroke-width="1.36"/>
<text x="227.8" y="707.55" font-size="6.8" font-weight="bold" text-anchor="end" fill="#161616" stroke="#161616" stroke-width="0.22">0.4</text>
<text x="270.13" y="736.98" font-size="12.43" font-weight="bold" textLength="5.12" lengthAdjust="spacingAndGlyphs" fill="#161616">*</text>
<text transform="rotate(-90)" stroke="#161616" stroke-width="0.25" x="-800.43" y="212.91" font-size="11.84" font-weight="bold" textLength="18.69" lengthAdjust="spacingAndGlyphs" fill="#161616">µm</text><text transform="rotate(-90)" stroke="#161616" stroke-width="0.25" x="-781.74" y="207.94" font-size="7.34" font-weight="bold" textLength="4.40" lengthAdjust="spacingAndGlyphs" fill="#161616">3</text><text transform="rotate(-90)" stroke="#161616" stroke-width="0.25" x="-777.35" y="212.91" font-size="11.84" font-weight="bold" textLength="22.23" lengthAdjust="spacingAndGlyphs" fill="#161616">/µm</text><text transform="rotate(-90)" stroke="#161616" stroke-width="0.25" x="-755.12" y="207.94" font-size="7.34" font-weight="bold" textLength="4.40" lengthAdjust="spacingAndGlyphs" fill="#161616">2</text><text transform="rotate(-90)" stroke="#161616" stroke-width="0.25" x="-750.72" y="212.91" font-size="11.84" font-weight="bold" textLength="11.33" lengthAdjust="spacingAndGlyphs" fill="#161616">/d</text>
<text stroke="#161616" stroke-width="0.28" stroke-linejoin="round" x="490.18" y="463.06" font-size="13.74" font-weight="bold" textLength="97.17" lengthAdjust="spacingAndGlyphs" fill="#161616">Trabecular Bone</text>
<path d="M450.25 572.20V570.30M448.75 570.30H451.75" stroke="#222" stroke-width="1.05" fill="none"/>
<rect x="439.90" y="572.20" width="21.20" height="64.00" fill="#fff" stroke="#8a8a8a" stroke-width="0.9"/>
<path d="M471.55 491.90V483.60M470.05 483.60H473.05" stroke="#222" stroke-width="1.05" fill="none"/>
<rect x="461.10" y="491.90" width="20.90" height="144.30" fill="#050505"/>
<path d="M525.20 571.70V567.80M523.70 567.80H526.70" stroke="#222" stroke-width="1.05" fill="none"/>
<rect x="514.90" y="571.70" width="21.10" height="64.50" fill="#fff" stroke="#8a8a8a" stroke-width="0.9"/>
<path d="M546.45 516.30V510.30M544.95 510.30H547.95" stroke="#222" stroke-width="1.05" fill="none"/>
<rect x="536.00" y="516.30" width="20.90" height="119.90" fill="#050505"/>
<path d="M599.45 571.70V567.80M597.95 567.80H600.95" stroke="#222" stroke-width="1.05" fill="none"/>
<rect x="589.20" y="571.70" width="21.00" height="64.50" fill="#fff" stroke="#8a8a8a" stroke-width="0.9"/>
<path d="M621.00 553.10V550.70M619.50 550.70H622.50" stroke="#222" stroke-width="1.05" fill="none"/>
<rect x="610.20" y="553.10" width="21.60" height="83.10" fill="#050505"/>
<path d="M424.2 475.9V636.2H653.6" stroke="#111" stroke-width="1.5" fill="none" stroke-linecap="square"/>
<path d="M421.20 636.20H424.2" stroke="#111" stroke-width="1.27"/>
<text x="410.90" y="638.40" font-size="7.8" font-weight="bold" textLength="4.70" lengthAdjust="spacingAndGlyphs" fill="#161616" stroke="#161616" stroke-width="0.22">0</text>
<path d="M421.20 604.14H424.2" stroke="#111" stroke-width="1.27"/>
<text x="406.20" y="606.34" font-size="7.8" font-weight="bold" textLength="9.40" lengthAdjust="spacingAndGlyphs" fill="#161616" stroke="#161616" stroke-width="0.22">50</text>
<path d="M421.20 572.08H424.2" stroke="#111" stroke-width="1.27"/>
<text x="401.50" y="574.28" font-size="7.8" font-weight="bold" textLength="14.10" lengthAdjust="spacingAndGlyphs" fill="#161616" stroke="#161616" stroke-width="0.22">100</text>
<path d="M421.20 540.02H424.2" stroke="#111" stroke-width="1.27"/>
<text x="401.50" y="542.22" font-size="7.8" font-weight="bold" textLength="14.10" lengthAdjust="spacingAndGlyphs" fill="#161616" stroke="#161616" stroke-width="0.22">150</text>
<path d="M421.20 507.96H424.2" stroke="#111" stroke-width="1.27"/>
<text x="401.50" y="510.16" font-size="7.8" font-weight="bold" textLength="14.10" lengthAdjust="spacingAndGlyphs" fill="#161616" stroke="#161616" stroke-width="0.22">200</text>
<path d="M421.20 475.90H424.2" stroke="#111" stroke-width="1.27"/>
<text x="401.50" y="478.10" font-size="7.8" font-weight="bold" textLength="14.10" lengthAdjust="spacingAndGlyphs" fill="#161616" stroke="#161616" stroke-width="0.22">250</text>
<path d="M499.5 636.2V638.4000000000001" stroke="#111" stroke-width="0.9"/>
<path d="M572.8 636.2V638.4000000000001" stroke="#111" stroke-width="0.9"/>
<path d="M653.2 636.2V638.4000000000001" stroke="#111" stroke-width="0.9"/>
<text x="466.93" y="485.41" font-size="11.89" font-weight="bold" textLength="10.51" lengthAdjust="spacingAndGlyphs" fill="#161616">**</text>
<text x="541.13" y="511.81" font-size="11.89" font-weight="bold" textLength="10.51" lengthAdjust="spacingAndGlyphs" fill="#161616">**</text>
<rect x="589" y="545.20" width="42.90" height="2.5" fill="#0a0a0a"/><text x="601.32" y="543.39" font-size="11.41" font-weight="normal" textLength="16.98" lengthAdjust="spacingAndGlyphs" fill="#161616">NS</text>
<text transform="rotate(-90)" stroke="#161616" stroke-width="0.28" stroke-linejoin="round" x="-602.25" y="378.95" font-size="10.70" font-weight="bold" textLength="85.16" lengthAdjust="spacingAndGlyphs" fill="#161616">mRNA expression</text>
<text transform="rotate(-90)" stroke="#161616" stroke-width="0.28" stroke-linejoin="round" x="-590.52" y="391.75" font-size="10.70" font-weight="bold" textLength="60.11" lengthAdjust="spacingAndGlyphs" fill="#161616">(% of T1DM)</text>
<text stroke="#161616" stroke-width="0.28" stroke-linejoin="round" x="442.50" y="655.39" font-size="10.99" font-weight="bold" textLength="36.32" lengthAdjust="spacingAndGlyphs" fill="#161616">RUNX2</text>
<text stroke="#161616" stroke-width="0.28" stroke-linejoin="round" x="525.09" y="655.59" font-size="11.27" font-weight="bold" textLength="21.43" lengthAdjust="spacingAndGlyphs" fill="#161616">OSX</text>
<text stroke="#161616" stroke-width="0.28" stroke-linejoin="round" x="582.28" y="655.59" font-size="11.16" font-weight="bold" textLength="59.95" lengthAdjust="spacingAndGlyphs" fill="#161616">Osteocalcin</text>
<rect x="612.2" y="470.4" width="8" height="8" fill="#fff" stroke="#777" stroke-width="1"/><rect x="611.7" y="496.2" width="9" height="9" fill="#050505"/><text stroke="#161616" stroke-width="0.28" stroke-linejoin="round" x="625.65" y="479.00" font-size="15.07" font-weight="bold" textLength="39.62" lengthAdjust="spacingAndGlyphs" fill="#161616">T1DM</text><text stroke="#161616" stroke-width="0.28" stroke-linejoin="round" x="625.67" y="505.15" font-size="14.65" font-weight="bold" textLength="37.50" lengthAdjust="spacingAndGlyphs" fill="#161616">T1-CA</text>
<text stroke="#161616" stroke-width="0.28" stroke-linejoin="round" x="492.10" y="686.08" font-size="11.70" font-weight="bold" textLength="80.54" lengthAdjust="spacingAndGlyphs" fill="#161616">Cortical Bone</text>
<path d="M449.75 755.60V751.10M448.25 751.10H451.25" stroke="#222" stroke-width="1.05" fill="none"/>
<rect x="439.30" y="755.60" width="21.40" height="77.50" fill="#fff" stroke="#8a8a8a" stroke-width="0.9"/>
<path d="M471.35 712.60V706.40M469.85 706.40H472.85" stroke="#222" stroke-width="1.05" fill="none"/>
<rect x="460.70" y="712.60" width="21.30" height="120.50" fill="#050505"/>
<path d="M524.90 755.20V753.40M523.40 753.40H526.40" stroke="#222" stroke-width="1.05" fill="none"/>
<rect x="514.30" y="755.20" width="21.70" height="77.90" fill="#fff" stroke="#8a8a8a" stroke-width="0.9"/>
<path d="M546.45 733.30V730.30M544.95 730.30H547.95" stroke="#222" stroke-width="1.05" fill="none"/>
<rect x="536.00" y="733.30" width="20.90" height="99.80" fill="#050505"/>
<path d="M599.45 755.20V752.80M597.95 752.80H600.95" stroke="#222" stroke-width="1.05" fill="none"/>
<rect x="589.20" y="755.20" width="21.00" height="77.90" fill="#fff" stroke="#8a8a8a" stroke-width="0.9"/>
<path d="M621.00 744.70V740.20M619.50 740.20H622.50" stroke="#222" stroke-width="1.05" fill="none"/>
<rect x="610.20" y="744.70" width="21.60" height="88.40" fill="#050505"/>
<path d="M423.7 692.3V833.1H651.5" stroke="#111" stroke-width="1.5" fill="none" stroke-linecap="square"/>
<path d="M420.70 833.10H423.7" stroke="#111" stroke-width="1.27"/>
<text x="411.10" y="835.30" font-size="7.8" font-weight="bold" textLength="4.70" lengthAdjust="spacingAndGlyphs" fill="#161616" stroke="#161616" stroke-width="0.22">0</text>
<path d="M420.70 809.63H423.7" stroke="#111" stroke-width="1.27"/>
<text x="406.40" y="811.83" font-size="7.8" font-weight="bold" textLength="9.40" lengthAdjust="spacingAndGlyphs" fill="#161616" stroke="#161616" stroke-width="0.22">30</text>
<path d="M420.70 786.17H423.7" stroke="#111" stroke-width="1.27"/>
<text x="406.40" y="788.37" font-size="7.8" font-weight="bold" textLength="9.40" lengthAdjust="spacingAndGlyphs" fill="#161616" stroke="#161616" stroke-width="0.22">60</text>
<path d="M420.70 762.70H423.7" stroke="#111" stroke-width="1.27"/>
<text x="406.40" y="764.90" font-size="7.8" font-weight="bold" textLength="9.40" lengthAdjust="spacingAndGlyphs" fill="#161616" stroke="#161616" stroke-width="0.22">90</text>
<path d="M420.70 739.23H423.7" stroke="#111" stroke-width="1.27"/>
<text x="401.70" y="741.43" font-size="7.8" font-weight="bold" textLength="14.10" lengthAdjust="spacingAndGlyphs" fill="#161616" stroke="#161616" stroke-width="0.22">120</text>
<path d="M420.70 715.77H423.7" stroke="#111" stroke-width="1.27"/>
<text x="401.70" y="717.97" font-size="7.8" font-weight="bold" textLength="14.10" lengthAdjust="spacingAndGlyphs" fill="#161616" stroke="#161616" stroke-width="0.22">150</text>
<path d="M420.70 692.30H423.7" stroke="#111" stroke-width="1.27"/>
<text x="401.70" y="694.50" font-size="7.8" font-weight="bold" textLength="14.10" lengthAdjust="spacingAndGlyphs" fill="#161616" stroke="#161616" stroke-width="0.22">180</text>
<path d="M498.5 833.1V835.3000000000001" stroke="#111" stroke-width="0.9"/>
<path d="M572.3 833.1V835.3000000000001" stroke="#111" stroke-width="0.9"/>
<path d="M651.2 833.1V835.3000000000001" stroke="#111" stroke-width="0.9"/>
<text x="468.93" y="707.55" font-size="12.97" font-weight="bold" textLength="5.33" lengthAdjust="spacingAndGlyphs" fill="#161616">*</text>
<text x="543.73" y="731.75" font-size="12.97" font-weight="bold" textLength="5.33" lengthAdjust="spacingAndGlyphs" fill="#161616">*</text>
<rect x="588.7" y="733.35" width="42.50" height="2.5" fill="#0a0a0a"/><text x="601.32" y="731.48" font-size="11.55" font-weight="normal" textLength="16.98" lengthAdjust="spacingAndGlyphs" fill="#161616">NS</text>
<text transform="rotate(-90)" stroke="#161616" stroke-width="0.28" stroke-linejoin="round" x="-804.07" y="378.84" font-size="10.27" font-weight="bold" textLength="75.11" lengthAdjust="spacingAndGlyphs" fill="#161616">mRNA expression</text>
<text transform="rotate(-90)" stroke="#161616" stroke-width="0.28" stroke-linejoin="round" x="-793.26" y="392.84" font-size="10.27" font-weight="bold" textLength="52.99" lengthAdjust="spacingAndGlyphs" fill="#161616">(% of T1DM)</text>
<text stroke="#161616" stroke-width="0.28" stroke-linejoin="round" x="443.10" y="850.09" font-size="10.99" font-weight="bold" textLength="36.32" lengthAdjust="spacingAndGlyphs" fill="#161616">RUNX2</text>
<text stroke="#161616" stroke-width="0.28" stroke-linejoin="round" x="526.59" y="850.09" font-size="11.27" font-weight="bold" textLength="21.53" lengthAdjust="spacingAndGlyphs" fill="#161616">OSX</text>
<text stroke="#161616" stroke-width="0.28" stroke-linejoin="round" x="583.47" y="850.09" font-size="11.16" font-weight="bold" textLength="60.25" lengthAdjust="spacingAndGlyphs" fill="#161616">Osteocalcin</text>
</g>
</svg></body></html>
